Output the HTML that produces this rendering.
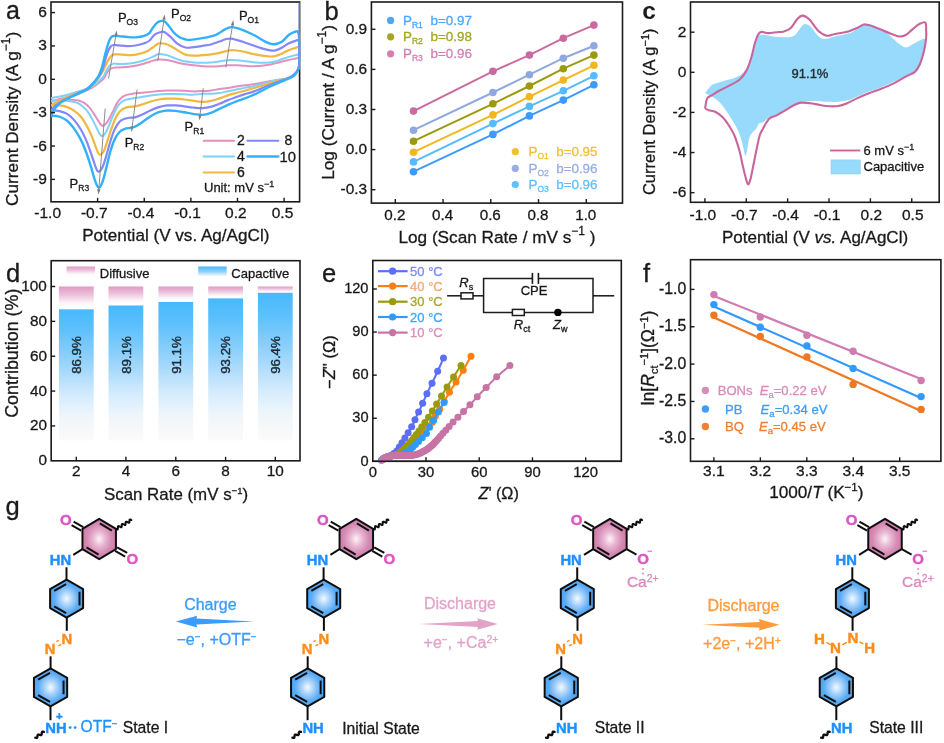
<!DOCTYPE html>
<html lang="en">
<head>
<meta charset="utf-8">
<title>Figure</title>
<style>
html,body{margin:0;padding:0;background:#fff;}
body{width:944px;height:743px;overflow:hidden;}
svg{display:block;font-family:"Liberation Sans",Arial,Helvetica,sans-serif;}
</style>
</head>
<body>
<svg width="944" height="743" viewBox="0 0 944 743">
<rect width="944" height="743" fill="#ffffff"/>
<filter id="softBlur" x="0" y="0" width="944" height="743" filterUnits="userSpaceOnUse"><feGaussianBlur stdDeviation="0.55"/></filter>
<g filter="url(#softBlur)">
<g id="panel-a">
<rect x="51" y="2" width="248.6" height="199.8" fill="none" stroke="#1a1a1a" stroke-width="1.6"/>
<clipPath id="clipA"><rect x="51" y="2" width="249.4" height="199.8"/></clipPath>
<g clip-path="url(#clipA)" fill="none" stroke-linejoin="round" stroke-linecap="round">
<path d="M51,101.5C52.5,101.08 56.83,99.92 60,99C63.17,98.08 66.67,97.08 70,96C73.33,94.92 76.67,93.7 80,92.5C83.33,91.3 87.21,90.13 90,88.8C92.79,87.47 94.46,86.15 96.71,84.5C98.96,82.85 101.8,80.82 103.5,78.9C105.2,76.97 105.76,74.66 106.89,72.96C108.02,71.26 108.87,69.62 110.29,68.72C111.7,67.81 113.4,67.76 115.38,67.53C117.36,67.3 119.34,67.59 122.16,67.36C124.99,67.13 129.23,66.65 132.34,66.17C135.45,65.69 138,65.18 140.83,64.48C143.66,63.77 146.77,62.72 149.31,61.93C151.86,61.14 154.32,60.15 156.1,59.72C157.88,59.3 157.94,59.3 160,59.38C162.06,59.47 165.66,59.72 168.48,60.23C171.31,60.74 174.14,61.79 176.97,62.44C179.79,63.09 182.62,63.66 185.45,64.14C188.28,64.62 191.11,64.98 193.93,65.32C196.76,65.66 199.59,65.97 202.42,66.17C205.25,66.37 208.07,66.51 210.9,66.51C213.73,66.51 216.56,66.37 219.38,66.17C222.21,65.97 225.04,65.46 227.87,65.32C230.7,65.18 233.52,65.24 236.35,65.32C239.18,65.41 242.01,65.69 244.84,65.83C247.66,65.97 250.49,66.17 253.32,66.17C256.15,66.17 258.97,66.12 261.8,65.83C264.63,65.55 267.46,65.04 270.29,64.48C273.11,63.91 275.94,63.15 278.77,62.44C281.6,61.73 284.43,60.88 287.25,60.23C290.08,59.58 293.9,58.9 295.74,58.54C297.58,58.17 297.69,57.78 298.28,58.03C298.88,58.27 299.13,58.67 299.3,60C299.47,61.33 299.72,63.98 299.3,66C298.88,68.02 298.76,70.05 296.76,72.11C294.75,74.17 290.25,77.12 287.25,78.39C284.26,79.66 281.6,79.29 278.77,79.75C275.94,80.2 273.11,80.59 270.29,81.1C267.46,81.61 264.63,82.26 261.8,82.8C258.97,83.34 256.15,83.9 253.32,84.33C250.49,84.75 247.66,84.98 244.84,85.34C242.01,85.71 239.18,86.11 236.35,86.53C233.52,86.96 230.7,87.47 227.87,87.89C225.04,88.31 222.21,88.65 219.38,89.08C216.56,89.5 213.73,90.1 210.9,90.43C208.07,90.77 205.45,90.96 202.42,91.11C199.38,91.27 195.74,91.41 192.7,91.37C189.67,91.33 187.05,91 184.22,90.86C181.39,90.72 178.56,90.58 175.74,90.52C172.91,90.46 170.08,90.43 167.25,90.52C164.43,90.6 161.6,90.8 158.77,91.03C155.94,91.25 153.11,91.59 150.29,91.88C147.46,92.16 144.63,92.44 141.8,92.73C138.97,93.01 135.86,93.21 133.32,93.57C130.77,93.94 128.51,94.22 126.53,94.93C124.55,95.64 123,96.49 121.44,97.82C119.89,99.14 118.47,100.93 117.2,102.91C115.93,104.89 114.94,107.43 113.81,109.69C112.68,111.95 111.54,114.36 110.41,116.48C109.28,118.6 108.01,121 107.02,122.42C106.03,123.83 105.24,124.4 104.48,124.96C103.71,125.53 103.15,126.01 102.44,125.81C101.73,125.61 101.03,124.76 100.23,123.78C99.44,122.79 98.82,121.65 97.69,119.87C96.56,118.09 94.86,115.21 93.45,113.09C92.03,110.97 90.76,108.84 89.2,107.15C87.65,105.45 85.81,103.98 84.11,102.91C82.42,101.83 81,101.21 79.02,100.7C77.04,100.19 74.22,99.99 72.24,99.85C70.26,99.71 68.84,99.82 67.15,99.85C65.45,99.88 64.04,99.96 62.06,100.02C60.08,100.08 57.11,99.94 55.27,100.19C53.43,100.44 51.71,101.28 51,101.5" stroke="#e58fc0" stroke-width="2"/>
<path d="M51,98C52.5,97.75 56.83,97.17 60,96.5C63.17,95.83 66.67,94.92 70,94C73.33,93.08 77,91.92 80,91C83,90.08 85.21,89.81 88,88.5C90.79,87.19 94.13,85.16 96.71,83.14C99.3,81.11 101.8,78.61 103.5,76.35C105.2,74.09 105.76,71.4 106.89,69.57C108.02,67.73 109.16,66.31 110.29,65.32C111.42,64.33 112.27,63.85 113.68,63.63C115.09,63.4 116.51,63.97 118.77,63.97C121.03,63.97 124.43,63.88 127.25,63.63C130.08,63.37 132.91,63 135.74,62.44C138.56,61.87 141.39,61.17 144.22,60.23C147.05,59.3 150.44,57.83 152.7,56.84C154.97,55.85 156.58,54.78 157.79,54.29C159.01,53.81 158.5,53.81 160,53.96C161.5,54.1 164.52,54.52 166.79,55.14C169.05,55.77 171.03,56.76 173.57,57.69C176.12,58.62 178.66,59.95 182.06,60.74C185.45,61.53 190.54,62.1 193.93,62.44C197.33,62.78 199.59,62.78 202.42,62.78C205.25,62.78 208.07,62.67 210.9,62.44C213.73,62.21 216.56,61.79 219.38,61.42C222.21,61.05 225.61,60.49 227.87,60.23C230.13,59.98 230.7,59.81 232.96,59.89C235.22,59.98 238.05,60.35 241.44,60.74C244.84,61.14 249.36,61.93 253.32,62.27C257.28,62.61 261.52,62.92 265.2,62.78C268.87,62.64 272.55,62.04 275.38,61.42C278.2,60.8 279.9,59.81 282.16,59.05C284.43,58.28 286.69,57.49 288.95,56.84C291.21,56.19 294.18,55.51 295.74,55.14C297.29,54.78 297.69,54.32 298.28,54.63C298.88,54.94 299.13,55.27 299.3,57C299.47,58.73 299.67,62.62 299.3,65C298.93,67.38 298.25,69.37 297.09,71.26C295.93,73.15 294.27,75.08 292.34,76.35C290.42,77.62 287.82,78.33 285.56,78.9C283.29,79.46 281.31,79.26 278.77,79.75C276.22,80.23 273.11,81.07 270.29,81.78C267.46,82.49 264.63,83.25 261.8,83.99C258.97,84.72 256.15,85.54 253.32,86.19C250.49,86.84 247.66,87.32 244.84,87.89C242.01,88.46 239.18,89.02 236.35,89.59C233.52,90.15 230.7,90.72 227.87,91.28C225.04,91.85 222.21,92.56 219.38,92.98C216.56,93.4 213.73,93.69 210.9,93.83C208.07,93.97 205.45,93.67 202.42,93.83C199.38,93.98 195.74,94.69 192.7,94.76C189.67,94.83 187.05,94.39 184.22,94.25C181.39,94.11 178.56,93.94 175.74,93.91C172.91,93.88 170.08,93.97 167.25,94.08C164.43,94.2 161.6,94.34 158.77,94.59C155.94,94.85 153.11,95.21 150.29,95.61C147.46,96.01 144.63,96.51 141.8,96.97C138.97,97.42 135.86,97.9 133.32,98.32C130.77,98.75 128.51,98.89 126.53,99.51C124.55,100.13 123,100.78 121.44,102.06C119.89,103.33 118.61,104.89 117.2,107.15C115.79,109.41 114.23,112.8 112.96,115.63C111.69,118.46 110.7,121.43 109.57,124.11C108.43,126.8 107.16,129.91 106.17,131.75C105.18,133.59 104.42,134.44 103.63,135.14C102.83,135.85 102.13,136.27 101.42,135.99C100.71,135.71 100.15,134.72 99.38,133.45C98.62,132.17 97.97,130.62 96.84,128.36C95.71,126.09 94.15,122.7 92.6,119.87C91.04,117.04 89.2,113.65 87.51,111.39C85.81,109.13 84.11,107.71 82.42,106.3C80.72,104.89 79.31,103.75 77.33,102.91C75.35,102.06 72.8,101.58 70.54,101.21C68.28,100.84 66.02,100.84 63.75,100.7C61.49,100.56 59.09,100.41 56.97,100.36C54.84,100.31 51.99,100.39 51,100.4" stroke="#7ed2fa" stroke-width="2"/>
<path d="M51,105.4C52.17,104.72 55.5,102.57 58,101.3C60.5,100.03 63,99.05 66,97.8C69,96.55 72.67,95.18 76,93.8C79.33,92.42 82.83,91.42 86,89.5C89.17,87.58 92.38,85.05 95.02,82.29C97.65,79.53 100.11,75.65 101.8,72.96C103.5,70.27 104.07,68.43 105.2,66.17C106.33,63.91 107.46,61.22 108.59,59.38C109.72,57.55 110.85,55.99 111.98,55.14C113.11,54.29 113.68,54.38 115.38,54.29C117.07,54.21 119.34,54.49 122.16,54.63C124.99,54.78 129.23,55.34 132.34,55.14C135.45,54.95 138.28,54.15 140.83,53.45C143.37,52.74 145.63,51.89 147.61,50.9C149.59,49.91 151.01,48.7 152.7,47.51C154.4,46.32 156.58,44.48 157.79,43.78C159.01,43.07 158.78,43.27 160,43.27C161.22,43.27 163.11,43.21 165.09,43.78C167.07,44.34 169.61,45.47 171.88,46.66C174.14,47.85 176.4,49.57 178.66,50.9C180.93,52.23 182.91,53.84 185.45,54.63C188,55.43 191.11,55.57 193.93,55.65C196.76,55.74 199.59,55.37 202.42,55.14C205.25,54.92 208.07,54.66 210.9,54.29C213.73,53.93 216.56,53.56 219.38,52.94C222.21,52.32 225.61,51.04 227.87,50.56C230.13,50.08 230.7,49.94 232.96,50.05C235.22,50.17 238.05,50.59 241.44,51.24C244.84,51.89 249.93,53.22 253.32,53.96C256.71,54.69 258.97,55.23 261.8,55.65C264.63,56.08 268.02,56.44 270.29,56.5C272.55,56.56 273.4,56.5 275.38,55.99C277.36,55.48 279.9,54.44 282.16,53.45C284.43,52.46 286.69,50.99 288.95,50.05C291.21,49.12 294.18,48.33 295.74,47.85C297.29,47.37 297.69,46.81 298.28,47.17C298.88,47.53 299.13,47.19 299.3,50C299.47,52.81 299.67,60.46 299.3,64C298.93,67.54 298.54,69.06 297.09,71.26C295.65,73.46 292.57,75.93 290.65,77.2C288.72,78.47 287.54,78.33 285.56,78.9C283.58,79.46 281.31,79.89 278.77,80.59C276.22,81.3 273.11,82.29 270.29,83.14C267.46,83.99 264.63,84.84 261.8,85.68C258.97,86.53 256.15,87.38 253.32,88.23C250.49,89.08 247.66,89.98 244.84,90.77C242.01,91.57 239.18,92.22 236.35,92.98C233.52,93.74 230.7,94.45 227.87,95.36C225.04,96.26 222.21,97.48 219.38,98.41C216.56,99.34 213.73,100.39 210.9,100.95C208.07,101.52 205.45,101.85 202.42,101.8C199.38,101.76 195.74,101.08 192.7,100.7C189.67,100.32 187.05,99.85 184.22,99.51C181.39,99.17 178.56,98.81 175.74,98.66C172.91,98.52 170.08,98.52 167.25,98.66C164.43,98.81 161.6,99 158.77,99.51C155.94,100.02 153.11,100.87 150.29,101.72C147.46,102.57 144.35,103.84 141.8,104.6C139.26,105.37 137,105.93 135.02,106.3C133.04,106.67 131.62,106.53 129.93,106.81C128.23,107.09 126.53,107.23 124.84,108C123.14,108.76 121.3,109.69 119.75,111.39C118.19,113.09 116.92,115.21 115.5,118.18C114.09,121.15 112.53,125.67 111.26,129.2C109.99,132.74 109,135.99 107.87,139.38C106.74,142.78 105.46,147.16 104.48,149.57C103.49,151.97 102.72,152.96 101.93,153.81C101.14,154.66 100.43,154.94 99.72,154.66C99.02,154.37 98.45,153.67 97.69,152.11C96.92,150.55 96.27,148.29 95.14,145.32C94.01,142.35 92.46,137.83 90.9,134.29C89.35,130.76 87.51,127.08 85.81,124.11C84.11,121.15 82.7,118.74 80.72,116.48C78.74,114.22 76.2,112.1 73.93,110.54C71.67,108.99 69.41,108 67.15,107.15C64.89,106.3 62.34,105.79 60.36,105.45C58.38,105.11 56.83,105.12 55.27,105.11C53.71,105.1 51.71,105.35 51,105.4" stroke="#f0b840" stroke-width="2.2"/>
<path d="M51,110.5C51.83,109.58 54.17,106.53 56,105C57.83,103.47 59.67,102.58 62,101.3C64.33,100.02 67,98.8 70,97.3C73,95.8 77,93.82 80,92.3C83,90.78 85.78,89.73 88,88.2C90.22,86.67 91.3,85.4 93.32,83.14C95.34,80.88 98.41,77.48 100.11,74.66C101.8,71.83 102.37,69.57 103.5,66.17C104.63,62.78 105.76,57.49 106.89,54.29C108.02,51.1 109.16,48.55 110.29,47C111.42,45.44 112.27,45.22 113.68,44.96C115.09,44.71 116.51,45.27 118.77,45.47C121.03,45.67 124.43,46.15 127.25,46.15C130.08,46.15 132.91,45.95 135.74,45.47C138.56,44.99 141.96,44.06 144.22,43.27C146.48,42.47 147.61,42.14 149.31,40.72C151.01,39.31 152.62,36.2 154.4,34.78C156.18,33.37 158.36,32.72 160,32.24C161.64,31.76 162.55,31.19 164.24,31.9C165.94,32.61 168.06,34.58 170.18,36.48C172.3,38.37 174.42,41.43 176.97,43.27C179.51,45.1 182.62,46.86 185.45,47.51C188.28,48.16 191.11,47.45 193.93,47.17C196.76,46.89 199.59,46.26 202.42,45.81C205.25,45.36 208.07,45.16 210.9,44.45C213.73,43.75 216.84,42.47 219.38,41.57C221.93,40.66 224.19,39.51 226.17,39.02C228.15,38.54 229.57,38.54 231.26,38.69C232.96,38.83 234.09,39.25 236.35,39.87C238.61,40.49 242.01,41.48 244.84,42.42C247.66,43.35 250.49,44.48 253.32,45.47C256.15,46.46 258.97,47.54 261.8,48.36C264.63,49.18 268.02,50.05 270.29,50.39C272.55,50.73 273.4,50.87 275.38,50.39C277.36,49.91 279.9,48.7 282.16,47.51C284.43,46.32 286.69,44.4 288.95,43.27C291.21,42.14 294.21,41.26 295.74,40.72C297.26,40.18 297.52,39.33 298.11,40.04C298.71,40.76 299.1,41.01 299.3,45C299.5,48.99 299.61,59.76 299.3,64C298.99,68.24 298.31,68.64 297.43,70.41C296.56,72.19 295.45,73.44 294.04,74.66C292.63,75.87 291.5,76.58 288.95,77.71C286.41,78.84 281.88,80.25 278.77,81.44C275.66,82.63 273.11,83.7 270.29,84.84C267.46,85.97 264.63,87.1 261.8,88.23C258.97,89.36 256.15,90.63 253.32,91.62C250.49,92.61 247.66,93.26 244.84,94.17C242.01,95.07 239.18,96.06 236.35,97.05C233.52,98.04 230.7,98.97 227.87,100.11C225.04,101.24 222.21,102.71 219.38,103.84C216.56,104.97 213.73,106.19 210.9,106.89C208.07,107.6 205.45,107.98 202.42,108.08C199.38,108.18 195.74,107.78 192.7,107.49C189.67,107.19 187.05,106.64 184.22,106.3C181.39,105.96 178.56,105.59 175.74,105.45C172.91,105.31 170.08,105.17 167.25,105.45C164.43,105.73 161.6,106.3 158.77,107.15C155.94,108 153.11,109.27 150.29,110.54C147.46,111.81 144.35,113.65 141.8,114.78C139.26,115.91 137,116.85 135.02,117.33C133.04,117.81 131.62,117.44 129.93,117.67C128.23,117.89 126.53,118.03 124.84,118.69C123.14,119.34 121.44,119.82 119.75,121.57C118.05,123.32 116.21,125.95 114.66,129.2C113.1,132.46 111.83,136.56 110.41,141.08C109,145.61 107.44,152.11 106.17,156.35C104.9,160.59 103.77,164.13 102.78,166.53C101.79,168.94 100.94,169.93 100.23,170.77C99.53,171.62 99.1,171.76 98.54,171.62C97.97,171.48 97.55,171.34 96.84,169.93C96.13,168.51 95.28,165.97 94.29,163.14C93.31,160.31 92.32,156.92 90.9,152.96C89.49,149 87.51,143.34 85.81,139.38C84.11,135.43 82.7,132.46 80.72,129.2C78.74,125.95 76.2,122.42 73.93,119.87C71.67,117.33 69.41,115.35 67.15,113.93C64.89,112.52 62.34,111.95 60.36,111.39C58.38,110.82 56.83,110.69 55.27,110.54C53.71,110.39 51.71,110.51 51,110.5" stroke="#8587f8" stroke-width="2.2"/>
<path d="M51,116C51.72,114.67 53.73,110.18 55.3,108C56.87,105.82 58.43,104.45 60.4,102.9C62.37,101.35 64.85,99.92 67.1,98.7C69.35,97.48 71.35,96.73 73.9,95.6C76.45,94.47 80.05,93.08 82.4,91.9C84.75,90.72 86.18,89.96 88,88.5C89.82,87.04 91.58,85.16 93.32,83.14C95.05,81.11 97,78.9 98.41,76.35C99.82,73.81 100.67,71.54 101.8,67.87C102.93,64.19 104.07,58.54 105.2,54.29C106.33,50.05 107.6,45.25 108.59,42.42C109.58,39.59 110.29,38.4 111.13,37.33C111.98,36.25 112.41,36.17 113.68,35.97C114.95,35.77 116.51,35.97 118.77,36.14C121.03,36.31 124.43,36.79 127.25,36.99C130.08,37.19 132.91,37.5 135.74,37.33C138.56,37.16 141.96,36.68 144.22,35.97C146.48,35.26 147.9,34.41 149.31,33.09C150.72,31.76 151.43,29.69 152.7,28C153.98,26.3 155.73,24.04 156.95,22.91C158.16,21.77 158.78,21.49 160,21.21C161.22,20.93 162.83,20.5 164.24,21.21C165.66,21.92 166.93,23.61 168.48,25.45C170.04,27.29 171.74,30.26 173.57,32.24C175.41,34.22 177.53,36.14 179.51,37.33C181.49,38.52 183.61,38.94 185.45,39.36C187.29,39.79 187.71,40.07 190.54,39.87C193.37,39.67 198.18,39.02 202.42,38.18C206.66,37.33 212.32,36.2 215.99,34.78C219.67,33.37 221.93,30.97 224.48,29.69C227.02,28.42 228.72,27.29 231.26,27.15C233.81,27.01 236.07,27.57 239.75,28.84C243.42,30.12 249.08,32.66 253.32,34.78C257.56,36.9 262.09,40.01 265.2,41.57C268.31,43.12 270,43.75 271.98,44.11C273.96,44.48 275.38,44.2 277.07,43.78C278.77,43.35 280.18,43.07 282.16,41.57C284.14,40.07 286.97,36.34 288.95,34.78C290.93,33.23 292.57,32.77 294.04,32.24C295.51,31.7 296.9,30.27 297.77,31.56C298.65,32.85 299.05,34.59 299.3,40C299.55,45.41 299.55,58.93 299.3,64C299.05,69.07 298.65,68.5 297.77,70.41C296.9,72.33 295.51,74.17 294.04,75.5C292.57,76.83 290.65,77.54 288.95,78.39C287.25,79.24 285.56,79.89 283.86,80.59C282.16,81.3 281.03,81.64 278.77,82.63C276.51,83.62 273.11,85.17 270.29,86.53C267.46,87.89 264.63,89.36 261.8,90.77C258.97,92.19 256.15,93.74 253.32,95.02C250.49,96.29 247.66,97.36 244.84,98.41C242.01,99.46 239.18,100.22 236.35,101.29C233.52,102.37 230.7,103.58 227.87,104.86C225.04,106.13 222.21,107.6 219.38,108.93C216.56,110.26 213.73,111.84 210.9,112.83C208.07,113.82 205.45,114.68 202.42,114.87C199.38,115.05 195.74,114.37 192.7,113.93C189.67,113.5 187.05,112.75 184.22,112.24C181.39,111.73 178.56,111.16 175.74,110.88C172.91,110.6 170.08,110.31 167.25,110.54C164.43,110.77 161.6,111.25 158.77,112.24C155.94,113.23 153.11,114.78 150.29,116.48C147.46,118.18 144.35,120.72 141.8,122.42C139.26,124.11 137,125.75 135.02,126.66C133.04,127.56 131.62,127.48 129.93,127.85C128.23,128.21 126.53,128.21 124.84,128.87C123.14,129.52 121.44,130 119.75,131.75C118.05,133.5 116.21,136.13 114.66,139.38C113.1,142.64 111.69,147.02 110.41,151.26C109.14,155.5 108.15,160.31 107.02,164.84C105.89,169.36 104.62,175.02 103.63,178.41C102.64,181.8 101.85,183.64 101.08,185.2C100.32,186.75 99.75,187.74 99.05,187.74C98.34,187.74 97.63,186.75 96.84,185.2C96.05,183.64 95.28,181.52 94.29,178.41C93.31,175.3 92.32,171.06 90.9,166.53C89.49,162.01 87.51,155.79 85.81,151.26C84.11,146.74 82.7,143.2 80.72,139.38C78.74,135.57 76.2,131.47 73.93,128.36C71.67,125.25 69.41,122.62 67.15,120.72C64.89,118.83 62.34,117.78 60.36,116.99C58.38,116.2 56.83,116.14 55.27,115.97C53.71,115.81 51.71,116 51,116" stroke="#33b1fb" stroke-width="2.4"/>
</g>
<line x1="299.2" y1="2.4" x2="299.2" y2="68" stroke="#8587f8" stroke-width="1.5" opacity="0.8"/>
<line x1="108.59" y1="78.39" x2="115.81" y2="35.96" stroke="#808080" stroke-width="0.9"/><path d="M116.73,30.54 L117.49,36.25 L114.14,35.68 Z" fill="#808080"/>
<line x1="157.79" y1="61.08" x2="163.94" y2="19.86" stroke="#808080" stroke-width="0.9"/><path d="M164.75,14.42 L165.62,20.11 L162.26,19.61 Z" fill="#808080"/>
<line x1="225.83" y1="67.53" x2="232.44" y2="25.45" stroke="#808080" stroke-width="0.9"/><path d="M233.3,20.02 L234.12,25.72 L230.76,25.19 Z" fill="#808080"/>
<line x1="137.09" y1="89.59" x2="132.22" y2="126.42" stroke="#808080" stroke-width="0.9"/><path d="M131.5,131.88 L130.53,126.2 L133.9,126.65 Z" fill="#808080"/>
<line x1="203.27" y1="88.23" x2="200.02" y2="115.01" stroke="#808080" stroke-width="0.9"/><path d="M199.36,120.47 L198.34,114.8 L201.71,115.21 Z" fill="#808080"/>
<line x1="105.2" y1="108.59" x2="98.84" y2="189.17" stroke="#808080" stroke-width="0.9"/><path d="M98.41,194.66 L97.15,189.04 L100.54,189.31 Z" fill="#808080"/>
<line x1="97.62" y1="201.8" x2="97.62" y2="197.8" stroke="#1a1a1a" stroke-width="1.4"/><line x1="144.24" y1="201.8" x2="144.24" y2="197.8" stroke="#1a1a1a" stroke-width="1.4"/><line x1="190.86" y1="201.8" x2="190.86" y2="197.8" stroke="#1a1a1a" stroke-width="1.4"/><line x1="237.48" y1="201.8" x2="237.48" y2="197.8" stroke="#1a1a1a" stroke-width="1.4"/><line x1="284.1" y1="201.8" x2="284.1" y2="197.8" stroke="#1a1a1a" stroke-width="1.4"/>
<line x1="51" y1="12.58" x2="55" y2="12.58" stroke="#1a1a1a" stroke-width="1.4"/><line x1="51" y1="45.94" x2="55" y2="45.94" stroke="#1a1a1a" stroke-width="1.4"/><line x1="51" y1="79.3" x2="55" y2="79.3" stroke="#1a1a1a" stroke-width="1.4"/><line x1="51" y1="112.66" x2="55" y2="112.66" stroke="#1a1a1a" stroke-width="1.4"/><line x1="51" y1="146.02" x2="55" y2="146.02" stroke="#1a1a1a" stroke-width="1.4"/><line x1="51" y1="179.38" x2="55" y2="179.38" stroke="#1a1a1a" stroke-width="1.4"/>
<text x="46.8" y="17.13" font-size="15.5" fill="#1a1a1a" text-anchor="end" stroke="#1a1a1a" stroke-width="0.3">6</text><text x="46.8" y="50.49" font-size="15.5" fill="#1a1a1a" text-anchor="end" stroke="#1a1a1a" stroke-width="0.3">3</text><text x="46.8" y="83.85" font-size="15.5" fill="#1a1a1a" text-anchor="end" stroke="#1a1a1a" stroke-width="0.3">0</text><text x="46.8" y="117.21" font-size="15.5" fill="#1a1a1a" text-anchor="end" stroke="#1a1a1a" stroke-width="0.3">-3</text><text x="46.8" y="150.57" font-size="15.5" fill="#1a1a1a" text-anchor="end" stroke="#1a1a1a" stroke-width="0.3">-6</text><text x="46.8" y="183.93" font-size="15.5" fill="#1a1a1a" text-anchor="end" stroke="#1a1a1a" stroke-width="0.3">-9</text>
<text x="47.7" y="218" font-size="15.5" fill="#1a1a1a" text-anchor="middle" stroke="#1a1a1a" stroke-width="0.3">-1.0</text><text x="94.32" y="218" font-size="15.5" fill="#1a1a1a" text-anchor="middle" stroke="#1a1a1a" stroke-width="0.3">-0.7</text><text x="140.94" y="218" font-size="15.5" fill="#1a1a1a" text-anchor="middle" stroke="#1a1a1a" stroke-width="0.3">-0.4</text><text x="187.56" y="218" font-size="15.5" fill="#1a1a1a" text-anchor="middle" stroke="#1a1a1a" stroke-width="0.3">-0.1</text><text x="235.88" y="218" font-size="15.5" fill="#1a1a1a" text-anchor="middle" stroke="#1a1a1a" stroke-width="0.3">0.2</text><text x="282.5" y="218" font-size="15.5" fill="#1a1a1a" text-anchor="middle" stroke="#1a1a1a" stroke-width="0.3">0.5</text>
<text x="175.8" y="241.4" font-size="17.1" fill="#1a1a1a" text-anchor="middle" stroke="#1a1a1a" stroke-width="0.3">Potential (V vs. Ag/AgCl)</text>
<text x="17.6" y="118.8" font-size="17.2" fill="#1a1a1a" text-anchor="middle" stroke="#1a1a1a" stroke-width="0.3" transform="rotate(-90 17.6 118.8)">Current Density (A g<tspan font-size="12" baseline-shift="8">−1</tspan>)</text>
<text x="6" y="18.8" font-size="25" fill="#1a1a1a" stroke="#1a1a1a" stroke-width="0.3">a</text>
<text x="117.9" y="22" font-size="13" fill="#1a1a1a" stroke="#1a1a1a" stroke-width="0.3">P<tspan font-size="8.5" baseline-shift="-3.2">O3</tspan></text>
<text x="171" y="17.8" font-size="13" fill="#1a1a1a" stroke="#1a1a1a" stroke-width="0.3">P<tspan font-size="8.5" baseline-shift="-3.2">O2</tspan></text>
<text x="238.9" y="19.5" font-size="13" fill="#1a1a1a" stroke="#1a1a1a" stroke-width="0.3">P<tspan font-size="8.5" baseline-shift="-3.2">O1</tspan></text>
<text x="124.7" y="147.1" font-size="13" fill="#1a1a1a" stroke="#1a1a1a" stroke-width="0.3">P<tspan font-size="8.5" baseline-shift="-3.2">R2</tspan></text>
<text x="184.6" y="130.5" font-size="13" fill="#1a1a1a" stroke="#1a1a1a" stroke-width="0.3">P<tspan font-size="8.5" baseline-shift="-3.2">R1</tspan></text>
<text x="69.6" y="187.9" font-size="13" fill="#1a1a1a" stroke="#1a1a1a" stroke-width="0.3">P<tspan font-size="8.5" baseline-shift="-3.2">R3</tspan></text>
<line x1="203.6" y1="140.7" x2="234.1" y2="140.7" stroke="#e58fc0" stroke-width="2" stroke-linecap="round"/>
<text x="237" y="145" font-size="14" fill="#1a1a1a" stroke="#1a1a1a" stroke-width="0.3">2</text>
<line x1="247.4" y1="140.7" x2="278.4" y2="140.7" stroke="#8587f8" stroke-width="2" stroke-linecap="round"/>
<text x="295.7" y="145" font-size="14" fill="#1a1a1a" text-anchor="end" stroke="#1a1a1a" stroke-width="0.3" dx="-3.3">8</text>
<line x1="203.6" y1="156.5" x2="234.1" y2="156.5" stroke="#7ed2fa" stroke-width="2" stroke-linecap="round"/>
<text x="237" y="160.9" font-size="14" fill="#1a1a1a" stroke="#1a1a1a" stroke-width="0.3">4</text>
<line x1="247.4" y1="156.5" x2="278.4" y2="156.5" stroke="#33b1fb" stroke-width="2.3" stroke-linecap="round"/>
<text x="295.9" y="161.5" font-size="14.8" fill="#1a1a1a" text-anchor="end" stroke="#1a1a1a" stroke-width="0.3">10</text>
<line x1="203.6" y1="172.6" x2="234.1" y2="172.6" stroke="#f0b840" stroke-width="2" stroke-linecap="round"/>
<text x="237" y="177" font-size="14" fill="#1a1a1a" stroke="#1a1a1a" stroke-width="0.3">6</text>
<text x="204" y="192.1" font-size="13" fill="#1a1a1a" stroke="#1a1a1a" stroke-width="0.3">Unit: mV s<tspan font-size="9" baseline-shift="5">−1</tspan></text>
</g>
<g id="panel-b">
<rect x="371.4" y="2" width="251.1" height="201.1" fill="none" stroke="#1a1a1a" stroke-width="1.6"/>
<line x1="395.3" y1="203.1" x2="395.3" y2="199.1" stroke="#1a1a1a" stroke-width="1.4"/><line x1="443.04" y1="203.1" x2="443.04" y2="199.1" stroke="#1a1a1a" stroke-width="1.4"/><line x1="490.78" y1="203.1" x2="490.78" y2="199.1" stroke="#1a1a1a" stroke-width="1.4"/><line x1="538.52" y1="203.1" x2="538.52" y2="199.1" stroke="#1a1a1a" stroke-width="1.4"/><line x1="586.26" y1="203.1" x2="586.26" y2="199.1" stroke="#1a1a1a" stroke-width="1.4"/>
<line x1="371.4" y1="29.27" x2="375.4" y2="29.27" stroke="#1a1a1a" stroke-width="1.4"/><line x1="371.4" y1="69.38" x2="375.4" y2="69.38" stroke="#1a1a1a" stroke-width="1.4"/><line x1="371.4" y1="109.49" x2="375.4" y2="109.49" stroke="#1a1a1a" stroke-width="1.4"/><line x1="371.4" y1="149.6" x2="375.4" y2="149.6" stroke="#1a1a1a" stroke-width="1.4"/><line x1="371.4" y1="189.71" x2="375.4" y2="189.71" stroke="#1a1a1a" stroke-width="1.4"/>
<path d="M413.5,171.7L492.9,134.4L529.4,115.9L563.3,100.1L593.9,84.8" fill="none" stroke="#3b9bff" stroke-width="2"/>
<circle cx="413.5" cy="171.7" r="3.8" fill="#3b9bff"/>
<circle cx="492.9" cy="134.4" r="3.8" fill="#3b9bff"/>
<circle cx="529.4" cy="115.9" r="3.8" fill="#3b9bff"/>
<circle cx="563.3" cy="100.1" r="3.8" fill="#3b9bff"/>
<circle cx="593.9" cy="84.8" r="3.8" fill="#3b9bff"/>
<path d="M413.5,161.9L492.9,123.6L529.4,106.4L563.3,90.8L593.9,75.8" fill="none" stroke="#55bbff" stroke-width="2"/>
<circle cx="413.5" cy="161.9" r="3.8" fill="#55bbff"/>
<circle cx="492.9" cy="123.6" r="3.8" fill="#55bbff"/>
<circle cx="529.4" cy="106.4" r="3.8" fill="#55bbff"/>
<circle cx="563.3" cy="90.8" r="3.8" fill="#55bbff"/>
<circle cx="593.9" cy="75.8" r="3.8" fill="#55bbff"/>
<path d="M413.5,152.2L492.9,114.9L529.4,96.7L563.3,80.1L593.9,65.3" fill="none" stroke="#f0b81e" stroke-width="2"/>
<circle cx="413.5" cy="152.2" r="3.8" fill="#f0b81e"/>
<circle cx="492.9" cy="114.9" r="3.8" fill="#f0b81e"/>
<circle cx="529.4" cy="96.7" r="3.8" fill="#f0b81e"/>
<circle cx="563.3" cy="80.1" r="3.8" fill="#f0b81e"/>
<circle cx="593.9" cy="65.3" r="3.8" fill="#f0b81e"/>
<path d="M413.5,141.2L492.9,103.8L529.4,86L563.3,68.7L593.9,55.1" fill="none" stroke="#9a9a10" stroke-width="2"/>
<circle cx="413.5" cy="141.2" r="3.8" fill="#9a9a10"/>
<circle cx="492.9" cy="103.8" r="3.8" fill="#9a9a10"/>
<circle cx="529.4" cy="86" r="3.8" fill="#9a9a10"/>
<circle cx="563.3" cy="68.7" r="3.8" fill="#9a9a10"/>
<circle cx="593.9" cy="55.1" r="3.8" fill="#9a9a10"/>
<path d="M413.5,130.2L492.9,92.5L529.4,74.7L563.3,58.2L593.9,45.8" fill="none" stroke="#8fa8e0" stroke-width="2"/>
<circle cx="413.5" cy="130.2" r="3.8" fill="#8fa8e0"/>
<circle cx="492.9" cy="92.5" r="3.8" fill="#8fa8e0"/>
<circle cx="529.4" cy="74.7" r="3.8" fill="#8fa8e0"/>
<circle cx="563.3" cy="58.2" r="3.8" fill="#8fa8e0"/>
<circle cx="593.9" cy="45.8" r="3.8" fill="#8fa8e0"/>
<path d="M413.5,111.1L492.9,71.3L529.4,55.1L563.3,38.2L593.9,25.1" fill="none" stroke="#c96ba0" stroke-width="2"/>
<circle cx="413.5" cy="111.1" r="3.8" fill="#c96ba0"/>
<circle cx="492.9" cy="71.3" r="3.8" fill="#c96ba0"/>
<circle cx="529.4" cy="55.1" r="3.8" fill="#c96ba0"/>
<circle cx="563.3" cy="38.2" r="3.8" fill="#c96ba0"/>
<circle cx="593.9" cy="25.1" r="3.8" fill="#c96ba0"/>
<text x="367.1" y="33.78" font-size="15.4" fill="#1a1a1a" text-anchor="end" stroke="#1a1a1a" stroke-width="0.3">0.9</text><text x="367.1" y="73.89" font-size="15.4" fill="#1a1a1a" text-anchor="end" stroke="#1a1a1a" stroke-width="0.3">0.6</text><text x="367.1" y="114" font-size="15.4" fill="#1a1a1a" text-anchor="end" stroke="#1a1a1a" stroke-width="0.3">0.3</text><text x="367.1" y="154.11" font-size="15.4" fill="#1a1a1a" text-anchor="end" stroke="#1a1a1a" stroke-width="0.3">0.0</text><text x="367.1" y="194.22" font-size="15.4" fill="#1a1a1a" text-anchor="end" stroke="#1a1a1a" stroke-width="0.3">-0.3</text>
<text x="394.8" y="219.6" font-size="15.2" fill="#1a1a1a" text-anchor="middle" stroke="#1a1a1a" stroke-width="0.3">0.2</text><text x="442.54" y="219.6" font-size="15.2" fill="#1a1a1a" text-anchor="middle" stroke="#1a1a1a" stroke-width="0.3">0.4</text><text x="490.28" y="219.6" font-size="15.2" fill="#1a1a1a" text-anchor="middle" stroke="#1a1a1a" stroke-width="0.3">0.6</text><text x="538.02" y="219.6" font-size="15.2" fill="#1a1a1a" text-anchor="middle" stroke="#1a1a1a" stroke-width="0.3">0.8</text><text x="585.76" y="219.6" font-size="15.2" fill="#1a1a1a" text-anchor="middle" stroke="#1a1a1a" stroke-width="0.3">1.0</text>
<text x="497" y="242.7" font-size="17.2" fill="#1a1a1a" text-anchor="middle" stroke="#1a1a1a" stroke-width="0.3">Log (Scan Rate / mV s<tspan font-size="12" baseline-shift="8">−1</tspan> )</text>
<text x="333.9" y="102.4" font-size="17.3" fill="#1a1a1a" text-anchor="middle" stroke="#1a1a1a" stroke-width="0.3" transform="rotate(-90 333.9 102.4)">Log (Current / A g<tspan font-size="12" baseline-shift="8">−1</tspan>)</text>
<text x="324.4" y="20" font-size="25.6" fill="#1a1a1a" stroke="#1a1a1a" stroke-width="0.3">b</text>
<circle cx="390.6" cy="20.4" r="3.6" fill="#4da6ff"/><text x="403" y="24.7" font-size="13.4" fill="#4da6ff" stroke="#4da6ff" stroke-width="0.3">P<tspan font-size="8.5" baseline-shift="-3.2">R1</tspan></text><text x="430.5" y="24.7" font-size="13.4" fill="#4da6ff" stroke="#4da6ff" stroke-width="0.3">b=0.97</text>
<circle cx="390.6" cy="36.8" r="3.6" fill="#a5a520"/><text x="403" y="41.1" font-size="13.4" fill="#a5a520" stroke="#a5a520" stroke-width="0.3">P<tspan font-size="8.5" baseline-shift="-3.2">R2</tspan></text><text x="430.5" y="41.1" font-size="13.4" fill="#a5a520" stroke="#a5a520" stroke-width="0.3">b=0.98</text>
<circle cx="390.6" cy="53.8" r="3.6" fill="#d47fb0"/><text x="403" y="58.1" font-size="13.4" fill="#d47fb0" stroke="#d47fb0" stroke-width="0.3">P<tspan font-size="8.5" baseline-shift="-3.2">R3</tspan></text><text x="430.5" y="58.1" font-size="13.4" fill="#d47fb0" stroke="#d47fb0" stroke-width="0.3">b=0.96</text>
<circle cx="515.3" cy="151.7" r="3.6" fill="#f2bf30"/><text x="528.5" y="156" font-size="13.4" fill="#f2bf30" stroke="#f2bf30" stroke-width="0.3">P<tspan font-size="8.5" baseline-shift="-3.2">O1</tspan></text><text x="556.2" y="156" font-size="13.4" fill="#f2bf30" stroke="#f2bf30" stroke-width="0.3">b=0.95</text>
<circle cx="515.3" cy="168.4" r="3.6" fill="#98ade2"/><text x="528.5" y="172.7" font-size="13.4" fill="#98ade2" stroke="#98ade2" stroke-width="0.3">P<tspan font-size="8.5" baseline-shift="-3.2">O2</tspan></text><text x="556.2" y="172.7" font-size="13.4" fill="#98ade2" stroke="#98ade2" stroke-width="0.3">b=0.96</text>
<circle cx="515.3" cy="184.5" r="3.6" fill="#5cc0ff"/><text x="528.5" y="188.8" font-size="13.4" fill="#5cc0ff" stroke="#5cc0ff" stroke-width="0.3">P<tspan font-size="8.5" baseline-shift="-3.2">O3</tspan></text><text x="556.2" y="188.8" font-size="13.4" fill="#5cc0ff" stroke="#5cc0ff" stroke-width="0.3">b=0.96</text>
</g>
<g id="panel-c">
<path d="M705.1,93.32C706.29,91.91 709.34,86.82 712.23,84.84C715.11,82.86 718.73,82.57 722.41,81.44C726.09,80.31 730.89,79.46 734.29,78.05C737.68,76.63 740.22,75.5 742.77,72.96C745.31,70.41 747.58,67.02 749.56,62.78C751.54,58.54 753.23,51.89 754.65,47.51C756.06,43.12 756.63,38.6 758.04,36.48C759.45,34.36 760.59,34.78 763.13,34.78C765.68,34.78 769.83,36.06 773.31,36.48C776.79,36.9 780.52,37.47 784,37.33C787.48,37.19 791.35,37.33 794.18,35.63C797.01,33.93 799.13,29.07 800.97,27.15C802.81,25.22 803.51,24.09 805.21,24.09C806.91,24.09 809.03,25.22 811.15,27.15C813.27,29.07 815.67,33.65 817.93,35.63C820.2,37.61 821.89,38.88 824.72,39.02C827.55,39.17 830.38,37.61 834.9,36.48C839.43,35.35 847.63,34.08 851.87,32.24C856.11,30.4 858.09,26.92 860.35,25.45C862.61,23.98 863.46,23.41 865.44,23.41C867.42,23.41 868.84,23.98 872.23,25.45C875.62,26.92 881.28,29.13 885.8,32.24C890.33,35.35 895.98,41.57 899.38,44.11C902.77,46.66 903.9,47.51 906.16,47.51C908.43,47.51 910.69,45.3 912.95,44.11C915.21,42.93 917.76,41.17 919.74,40.38C921.72,39.59 924.12,37.61 924.83,39.36C925.53,41.12 924.83,46.72 923.98,50.9C923.13,55.09 921.29,60.94 919.74,64.48C918.18,68.01 916.34,70.41 914.65,72.11C912.95,73.81 912.95,73.1 909.56,74.66C906.16,76.21 899.09,79.32 894.29,81.44C889.48,83.56 884.95,85.68 880.71,87.38C876.47,89.08 872.79,90.07 868.84,91.62C864.88,93.18 860.35,95.3 856.96,96.71C853.57,98.13 851.59,99.26 848.48,100.11C845.36,100.95 841.97,101.52 838.29,101.8C834.62,102.09 830.38,101.94 826.42,101.8C822.46,101.66 818.78,100.95 814.54,100.95C810.3,100.95 804.64,101.1 800.97,101.8C797.29,102.51 795.31,103.78 792.48,105.2C789.66,106.61 786.63,108.59 784,110.29C781.37,111.98 779.05,114.25 776.7,115.38C774.36,116.51 772.18,115.94 769.92,117.07C767.66,118.2 764.97,121.11 763.13,122.16C761.29,123.22 760.02,122.34 758.89,123.39C757.76,124.45 757.33,127.07 756.34,128.48C755.35,129.9 754.08,130.46 752.95,131.88C751.82,133.29 750.55,133.86 749.56,136.97C748.57,140.08 747.72,147.43 747.01,150.54C746.3,153.65 746.02,156.48 745.31,155.63C744.61,154.78 743.76,149.13 742.77,145.45C741.78,141.77 740.79,137.25 739.38,133.57C737.96,129.9 736.55,127.27 734.29,123.39C732.02,119.51 728.35,113.88 725.8,110.29C723.26,106.69 721.28,104.07 719.02,101.8C716.75,99.54 714.55,98.13 712.23,96.71C709.91,95.3 706.29,93.88 705.1,93.32Z" fill="#97dafb" stroke="none"/>
<path d="M705.1,108.59C705.44,106.89 705.95,100.67 707.14,98.41C708.33,96.15 710.25,96.29 712.23,95.02C714.21,93.74 716.19,92.33 719.02,90.77C721.84,89.22 725.8,87.52 729.2,85.68C732.59,83.85 736.55,82.15 739.38,79.75C742.2,77.34 744.18,74.94 746.16,71.26C748.14,67.59 749.84,62.21 751.25,57.69C752.67,53.16 753.52,47.93 754.65,44.11C755.78,40.3 756.91,36.82 758.04,34.78C759.17,32.75 759.74,32.18 761.43,31.9C763.13,31.62 765.68,33.03 768.22,33.09C770.77,33.14 774.07,32.52 776.7,32.24C779.33,31.95 781.65,32.1 784,31.39C786.35,30.68 788.52,30.12 790.79,28C793.05,25.87 795.59,20.73 797.57,18.66C799.55,16.6 800.68,15.47 802.66,15.61C804.64,15.75 806.91,17.02 809.45,19.51C812,22 815.11,27.85 817.93,30.54C820.76,33.23 823.59,35.07 826.42,35.63C829.25,36.2 831.23,34.64 834.9,33.93C838.58,33.23 844.8,32.38 848.48,31.39C852.15,30.4 854.41,29.13 856.96,28C859.5,26.86 861.77,25.08 863.75,24.6C865.72,24.12 866.29,24.4 868.84,25.11C871.38,25.82 875.62,27.52 879.02,28.84C882.41,30.17 885.8,31.81 889.2,33.09C892.59,34.36 896.55,36.2 899.38,36.48C902.2,36.76 903.9,36.06 906.16,34.78C908.43,33.51 910.69,30.68 912.95,28.84C915.21,27.01 917.67,24.8 919.74,23.75C921.8,22.71 924.26,21.44 925.34,22.57C926.41,23.7 926.07,27.8 926.18,30.54C926.3,33.28 926.38,35.63 926.01,39.02C925.65,42.42 925.03,46.66 923.98,50.9C922.93,55.14 921.29,60.94 919.74,64.48C918.18,68.01 916.91,70.13 914.65,72.11C912.38,74.09 909.56,74.51 906.16,76.35C902.77,78.19 898.53,81.02 894.29,83.14C890.04,85.26 884.95,87.38 880.71,89.08C876.47,90.77 872.79,91.76 868.84,93.32C864.88,94.87 860.35,96.85 856.96,98.41C853.57,99.96 851.59,101.38 848.48,102.65C845.36,103.92 841.97,105.48 838.29,106.04C834.62,106.61 830.38,106.41 826.42,106.04C822.46,105.68 818.78,104.4 814.54,103.84C810.3,103.27 804.64,102.28 800.97,102.65C797.29,103.02 795.31,104.63 792.48,106.04C789.66,107.46 786.63,109.58 784,111.13C781.37,112.69 779.05,114.22 776.7,115.38C774.36,116.54 771.76,116.7 769.92,118.09C768.08,119.48 766.81,122 765.68,123.73C764.54,125.46 764.12,126.56 763.13,128.48C762.14,130.41 760.87,131.59 759.74,135.27C758.61,138.95 757.47,145.17 756.34,150.54C755.21,155.91 753.94,162.7 752.95,167.51C751.96,172.32 751.2,176.56 750.41,179.38C749.61,182.21 748.91,184.48 748.2,184.48C747.49,184.48 747.07,182.5 746.16,179.38C745.26,176.27 743.9,170.62 742.77,165.81C741.64,161 740.79,155.63 739.38,150.54C737.96,145.45 736.27,139.79 734.29,135.27C732.31,130.75 729.48,126.43 727.5,123.39C725.52,120.36 724.39,118.97 722.41,117.07C720.43,115.17 717.88,113.11 715.62,111.98C713.36,110.85 710.59,110.85 708.84,110.29C707.08,109.72 705.72,108.87 705.1,108.59" fill="none" stroke="#c9659b" stroke-width="2.1" stroke-linejoin="round"/>
<rect x="690.5" y="2" width="248.7" height="200.3" fill="none" stroke="#1a1a1a" stroke-width="1.6"/>
<line x1="704.9" y1="202.3" x2="704.9" y2="198.3" stroke="#1a1a1a" stroke-width="1.4"/><line x1="746.27" y1="202.3" x2="746.27" y2="198.3" stroke="#1a1a1a" stroke-width="1.4"/><line x1="787.64" y1="202.3" x2="787.64" y2="198.3" stroke="#1a1a1a" stroke-width="1.4"/><line x1="829.01" y1="202.3" x2="829.01" y2="198.3" stroke="#1a1a1a" stroke-width="1.4"/><line x1="870.38" y1="202.3" x2="870.38" y2="198.3" stroke="#1a1a1a" stroke-width="1.4"/><line x1="911.75" y1="202.3" x2="911.75" y2="198.3" stroke="#1a1a1a" stroke-width="1.4"/>
<line x1="690.5" y1="32.18" x2="694.5" y2="32.18" stroke="#1a1a1a" stroke-width="1.4"/><line x1="690.5" y1="72.3" x2="694.5" y2="72.3" stroke="#1a1a1a" stroke-width="1.4"/><line x1="690.5" y1="112.42" x2="694.5" y2="112.42" stroke="#1a1a1a" stroke-width="1.4"/><line x1="690.5" y1="152.54" x2="694.5" y2="152.54" stroke="#1a1a1a" stroke-width="1.4"/><line x1="690.5" y1="192.66" x2="694.5" y2="192.66" stroke="#1a1a1a" stroke-width="1.4"/>
<text x="686.3" y="36.73" font-size="15.5" fill="#1a1a1a" text-anchor="end" stroke="#1a1a1a" stroke-width="0.3">2</text><text x="686.3" y="76.85" font-size="15.5" fill="#1a1a1a" text-anchor="end" stroke="#1a1a1a" stroke-width="0.3">0</text><text x="686.3" y="116.97" font-size="15.5" fill="#1a1a1a" text-anchor="end" stroke="#1a1a1a" stroke-width="0.3">-2</text><text x="686.3" y="157.09" font-size="15.5" fill="#1a1a1a" text-anchor="end" stroke="#1a1a1a" stroke-width="0.3">-4</text><text x="686.3" y="197.21" font-size="15.5" fill="#1a1a1a" text-anchor="end" stroke="#1a1a1a" stroke-width="0.3">-6</text>
<text x="702.9" y="219.8" font-size="15.5" fill="#1a1a1a" text-anchor="middle" stroke="#1a1a1a" stroke-width="0.3">-1.0</text><text x="744.27" y="219.8" font-size="15.5" fill="#1a1a1a" text-anchor="middle" stroke="#1a1a1a" stroke-width="0.3">-0.7</text><text x="785.64" y="219.8" font-size="15.5" fill="#1a1a1a" text-anchor="middle" stroke="#1a1a1a" stroke-width="0.3">-0.4</text><text x="827.01" y="219.8" font-size="15.5" fill="#1a1a1a" text-anchor="middle" stroke="#1a1a1a" stroke-width="0.3">-0.1</text><text x="871.38" y="219.8" font-size="15.5" fill="#1a1a1a" text-anchor="middle" stroke="#1a1a1a" stroke-width="0.3">0.2</text><text x="912.75" y="219.8" font-size="15.5" fill="#1a1a1a" text-anchor="middle" stroke="#1a1a1a" stroke-width="0.3">0.5</text>
<text x="815" y="243" font-size="17" fill="#1a1a1a" text-anchor="middle" stroke="#1a1a1a" stroke-width="0.3">Potential (V <tspan font-style="italic">vs.</tspan> Ag/AgCl)</text>
<text x="654.7" y="111.8" font-size="16.5" fill="#1a1a1a" text-anchor="middle" stroke="#1a1a1a" stroke-width="0.3" transform="rotate(-90 654.7 111.8)">Current Density (A g<tspan font-size="11" baseline-shift="6.5">−1</tspan>)</text>
<text x="642.3" y="18.7" font-size="24.5" fill="#1a1a1a" font-weight="bold">c</text>
<text x="810" y="78" font-size="13" fill="#263238" text-anchor="middle" stroke="#263238" stroke-width="0.4">91.1%</text>
<line x1="830.1" y1="150.5" x2="860.3" y2="150.5" stroke="#c9659b" stroke-width="1.9"/>
<text x="863.5" y="155.1" font-size="13" fill="#1a1a1a" stroke="#1a1a1a" stroke-width="0.3">6 mV s<tspan font-size="9" baseline-shift="5">−1</tspan></text>
<rect x="831" y="159.9" width="29.3" height="14.1" fill="#97dafb" stroke="#8cc8e8" stroke-width="0.5"/>
<text x="863.5" y="171" font-size="13" fill="#1a1a1a" stroke="#1a1a1a" stroke-width="0.3">Capacitive</text>
</g>
<g id="panel-d">
<defs><linearGradient id="gBlue" x1="0" y1="0" x2="0" y2="1"><stop offset="0" stop-color="#48b9fc"/><stop offset="0.15" stop-color="#5cc0fc"/><stop offset="0.35" stop-color="#88cffb"/><stop offset="0.5" stop-color="#aedcfc"/><stop offset="0.65" stop-color="#d3ebfd"/><stop offset="0.8" stop-color="#ecf5fc"/><stop offset="0.9" stop-color="#f6f7f9"/><stop offset="1" stop-color="#fbfbfb"/></linearGradient><linearGradient id="gPink" x1="0" y1="0" x2="0" y2="1"><stop offset="0" stop-color="#e09ac2"/><stop offset="0.35" stop-color="#ebc0d9"/><stop offset="0.7" stop-color="#fbf1f6"/><stop offset="0.88" stop-color="#ffffff"/></linearGradient></defs>
<rect x="58.9" y="286.5" width="34.8" height="22.83" fill="url(#gPink)"/>
<rect x="58.9" y="309.33" width="34.8" height="131.17" fill="url(#gBlue)"/>
<text x="81.1" y="355" font-size="13.3" fill="#1c2b36" text-anchor="middle" stroke="#1c2b36" stroke-width="0.42" transform="rotate(-90 81.1 355)">86.9%</text>
<rect x="108.5" y="286.5" width="34.8" height="19" fill="url(#gPink)"/>
<rect x="108.5" y="305.5" width="34.8" height="135" fill="url(#gBlue)"/>
<text x="130.7" y="355" font-size="13.3" fill="#1c2b36" text-anchor="middle" stroke="#1c2b36" stroke-width="0.42" transform="rotate(-90 130.7 355)">89.1%</text>
<rect x="158.4" y="286.5" width="34.8" height="15.51" fill="url(#gPink)"/>
<rect x="158.4" y="302.01" width="34.8" height="138.49" fill="url(#gBlue)"/>
<text x="180.6" y="355" font-size="13.3" fill="#1c2b36" text-anchor="middle" stroke="#1c2b36" stroke-width="0.42" transform="rotate(-90 180.6 355)">91.1%</text>
<rect x="208.2" y="286.5" width="34.8" height="11.85" fill="url(#gPink)"/>
<rect x="208.2" y="298.35" width="34.8" height="142.15" fill="url(#gBlue)"/>
<text x="230.4" y="355" font-size="13.3" fill="#1c2b36" text-anchor="middle" stroke="#1c2b36" stroke-width="0.42" transform="rotate(-90 230.4 355)">93.2%</text>
<rect x="257.9" y="286.5" width="34.8" height="6.27" fill="url(#gPink)"/>
<rect x="257.9" y="292.77" width="34.8" height="147.73" fill="url(#gBlue)"/>
<text x="280.1" y="355" font-size="13.3" fill="#1c2b36" text-anchor="middle" stroke="#1c2b36" stroke-width="0.42" transform="rotate(-90 280.1 355)">96.4%</text>
<rect x="66.5" y="266.5" width="28.5" height="10" fill="url(#gPink)"/>
<text x="99.8" y="278" font-size="13" fill="#1a1a1a" stroke="#1a1a1a" stroke-width="0.3">Diffusive</text>
<linearGradient id="gBlue2" x1="0" y1="0" x2="0" y2="1"><stop offset="0" stop-color="#45b8fc"/><stop offset="0.5" stop-color="#8fd0fb"/><stop offset="1" stop-color="#ffffff"/></linearGradient>
<rect x="198.2" y="266.5" width="28.5" height="10" fill="url(#gBlue2)"/>
<text x="231.3" y="278" font-size="13" fill="#1a1a1a" stroke="#1a1a1a" stroke-width="0.3">Capactive</text>
<rect x="51.2" y="260.7" width="248.8" height="200.1" fill="none" stroke="#1a1a1a" stroke-width="1.6"/>
<line x1="76.3" y1="460.8" x2="76.3" y2="456.8" stroke="#1a1a1a" stroke-width="1.4"/><line x1="125.9" y1="460.8" x2="125.9" y2="456.8" stroke="#1a1a1a" stroke-width="1.4"/><line x1="175.8" y1="460.8" x2="175.8" y2="456.8" stroke="#1a1a1a" stroke-width="1.4"/><line x1="225.6" y1="460.8" x2="225.6" y2="456.8" stroke="#1a1a1a" stroke-width="1.4"/><line x1="275.3" y1="460.8" x2="275.3" y2="456.8" stroke="#1a1a1a" stroke-width="1.4"/>
<line x1="51.2" y1="286.5" x2="55.2" y2="286.5" stroke="#1a1a1a" stroke-width="1.4"/><line x1="51.2" y1="321.36" x2="55.2" y2="321.36" stroke="#1a1a1a" stroke-width="1.4"/><line x1="51.2" y1="356.22" x2="55.2" y2="356.22" stroke="#1a1a1a" stroke-width="1.4"/><line x1="51.2" y1="391.08" x2="55.2" y2="391.08" stroke="#1a1a1a" stroke-width="1.4"/><line x1="51.2" y1="425.94" x2="55.2" y2="425.94" stroke="#1a1a1a" stroke-width="1.4"/>
<text x="46.9" y="290.98" font-size="15.3" fill="#1a1a1a" text-anchor="end" stroke="#1a1a1a" stroke-width="0.3">100</text><text x="46.9" y="325.84" font-size="15.3" fill="#1a1a1a" text-anchor="end" stroke="#1a1a1a" stroke-width="0.3">80</text><text x="46.9" y="360.7" font-size="15.3" fill="#1a1a1a" text-anchor="end" stroke="#1a1a1a" stroke-width="0.3">60</text><text x="46.9" y="395.56" font-size="15.3" fill="#1a1a1a" text-anchor="end" stroke="#1a1a1a" stroke-width="0.3">40</text><text x="46.9" y="430.42" font-size="15.3" fill="#1a1a1a" text-anchor="end" stroke="#1a1a1a" stroke-width="0.3">20</text><text x="46.9" y="465.28" font-size="15.3" fill="#1a1a1a" text-anchor="end" stroke="#1a1a1a" stroke-width="0.3">0</text>
<text x="76.3" y="476.2" font-size="15.3" fill="#1a1a1a" text-anchor="middle" stroke="#1a1a1a" stroke-width="0.3">2</text><text x="125.9" y="476.2" font-size="15.3" fill="#1a1a1a" text-anchor="middle" stroke="#1a1a1a" stroke-width="0.3">4</text><text x="175.8" y="476.2" font-size="15.3" fill="#1a1a1a" text-anchor="middle" stroke="#1a1a1a" stroke-width="0.3">6</text><text x="225.6" y="476.2" font-size="15.3" fill="#1a1a1a" text-anchor="middle" stroke="#1a1a1a" stroke-width="0.3">8</text><text x="275.3" y="476.2" font-size="15.3" fill="#1a1a1a" text-anchor="middle" stroke="#1a1a1a" stroke-width="0.3">10</text>
<text x="176" y="499.6" font-size="16.9" fill="#1a1a1a" text-anchor="middle" stroke="#1a1a1a" stroke-width="0.3">Scan Rate (mV s<tspan font-size="9.5" baseline-shift="6.5">−1</tspan>)</text>
<text x="18.5" y="353.2" font-size="17.9" fill="#1a1a1a" text-anchor="middle" stroke="#1a1a1a" stroke-width="0.3" transform="rotate(-90 18.5 353.2)">Contribution (%)</text>
<text x="6" y="281.5" font-size="25.5" fill="#1a1a1a" stroke="#1a1a1a" stroke-width="0.3">d</text>
</g>
<g id="panel-e">
<rect x="372.8" y="260.5" width="248.5" height="200.8" fill="none" stroke="#1a1a1a" stroke-width="1.6"/>
<line x1="426.02" y1="461.3" x2="426.02" y2="457.3" stroke="#1a1a1a" stroke-width="1.4"/><line x1="479.24" y1="461.3" x2="479.24" y2="457.3" stroke="#1a1a1a" stroke-width="1.4"/><line x1="532.46" y1="461.3" x2="532.46" y2="457.3" stroke="#1a1a1a" stroke-width="1.4"/><line x1="585.68" y1="461.3" x2="585.68" y2="457.3" stroke="#1a1a1a" stroke-width="1.4"/>
<line x1="372.8" y1="288.98" x2="376.8" y2="288.98" stroke="#1a1a1a" stroke-width="1.4"/><line x1="372.8" y1="332.06" x2="376.8" y2="332.06" stroke="#1a1a1a" stroke-width="1.4"/><line x1="372.8" y1="375.14" x2="376.8" y2="375.14" stroke="#1a1a1a" stroke-width="1.4"/><line x1="372.8" y1="418.22" x2="376.8" y2="418.22" stroke="#1a1a1a" stroke-width="1.4"/>
<path d="M381.3,460.3L384,458.3L388,456.6L392,455L396.5,451.4L401,444.5L405.5,437L410.1,429.4L413.2,424L416.5,416.1L420.3,408.7L423.7,400.9L427.6,392.1L432.5,382.2L437.6,371.5L443.5,358.1" fill="none" stroke="#5b6ef5" stroke-width="2" stroke-linejoin="round"/>
<circle cx="382.59" cy="459.34" r="3.5" fill="#5b6ef5"/>
<circle cx="384.86" cy="457.93" r="3.5" fill="#5b6ef5"/>
<circle cx="387.61" cy="456.77" r="3.5" fill="#5b6ef5"/>
<circle cx="390.69" cy="455.53" r="3.5" fill="#5b6ef5"/>
<circle cx="393.77" cy="453.58" r="3.5" fill="#5b6ef5"/>
<circle cx="396.83" cy="450.9" r="3.5" fill="#5b6ef5"/>
<circle cx="399.31" cy="447.08" r="3.5" fill="#5b6ef5"/>
<circle cx="402.01" cy="442.81" r="3.5" fill="#5b6ef5"/>
<circle cx="404.9" cy="437.99" r="3.5" fill="#5b6ef5"/>
<circle cx="408.13" cy="432.65" r="3.5" fill="#5b6ef5"/>
<circle cx="411.66" cy="426.68" r="3.5" fill="#5b6ef5"/>
<circle cx="414.98" cy="419.74" r="3.5" fill="#5b6ef5"/>
<circle cx="418.61" cy="411.99" r="3.5" fill="#5b6ef5"/>
<circle cx="422.62" cy="403.37" r="3.5" fill="#5b6ef5"/>
<circle cx="426.89" cy="393.7" r="3.5" fill="#5b6ef5"/>
<circle cx="432.03" cy="383.15" r="3.5" fill="#5b6ef5"/>
<circle cx="437.66" cy="371.37" r="3.5" fill="#5b6ef5"/>
<circle cx="443.5" cy="358.1" r="3.5" fill="#5b6ef5"/>
<path d="M381.3,460.3L384,458.3L388,456.6L393,455.6L398,454.5L403,451.5L409,446L415,440L421,433.5L426,428L432.2,422.6L436.4,414.1L441.5,406.5L445.7,398.8L450.5,390.4L456.8,381L463.3,370L471,356.2" fill="none" stroke="#ff7f0e" stroke-width="2" stroke-linejoin="round"/>
<circle cx="382.52" cy="459.4" r="3.5" fill="#ff7f0e"/>
<circle cx="383.8" cy="458.45" r="3.5" fill="#ff7f0e"/>
<circle cx="385.25" cy="457.77" r="3.5" fill="#ff7f0e"/>
<circle cx="386.72" cy="457.14" r="3.5" fill="#ff7f0e"/>
<circle cx="388.2" cy="456.56" r="3.5" fill="#ff7f0e"/>
<circle cx="389.77" cy="456.25" r="3.5" fill="#ff7f0e"/>
<circle cx="391.34" cy="455.93" r="3.5" fill="#ff7f0e"/>
<circle cx="392.91" cy="455.62" r="3.5" fill="#ff7f0e"/>
<circle cx="394.47" cy="455.28" r="3.5" fill="#ff7f0e"/>
<circle cx="396.04" cy="454.93" r="3.5" fill="#ff7f0e"/>
<circle cx="397.6" cy="454.59" r="3.5" fill="#ff7f0e"/>
<circle cx="399.02" cy="453.89" r="3.5" fill="#ff7f0e"/>
<circle cx="400.39" cy="453.06" r="3.5" fill="#ff7f0e"/>
<circle cx="401.76" cy="452.24" r="3.5" fill="#ff7f0e"/>
<circle cx="403.12" cy="451.39" r="3.5" fill="#ff7f0e"/>
<circle cx="404.3" cy="450.31" r="3.5" fill="#ff7f0e"/>
<circle cx="405.48" cy="449.23" r="3.5" fill="#ff7f0e"/>
<circle cx="406.66" cy="448.15" r="3.5" fill="#ff7f0e"/>
<circle cx="407.83" cy="447.07" r="3.5" fill="#ff7f0e"/>
<circle cx="409.1" cy="445.9" r="3.5" fill="#ff7f0e"/>
<circle cx="410.5" cy="444.5" r="3.5" fill="#ff7f0e"/>
<circle cx="412.11" cy="442.89" r="3.5" fill="#ff7f0e"/>
<circle cx="413.96" cy="441.04" r="3.5" fill="#ff7f0e"/>
<circle cx="416.05" cy="438.87" r="3.5" fill="#ff7f0e"/>
<circle cx="418.39" cy="436.33" r="3.5" fill="#ff7f0e"/>
<circle cx="421.09" cy="433.41" r="3.5" fill="#ff7f0e"/>
<circle cx="424.16" cy="430.02" r="3.5" fill="#ff7f0e"/>
<circle cx="427.9" cy="426.35" r="3.5" fill="#ff7f0e"/>
<circle cx="432.35" cy="422.3" r="3.5" fill="#ff7f0e"/>
<circle cx="435.42" cy="416.08" r="3.5" fill="#ff7f0e"/>
<circle cx="439.61" cy="409.32" r="3.5" fill="#ff7f0e"/>
<circle cx="444.27" cy="401.43" r="3.5" fill="#ff7f0e"/>
<circle cx="449.44" cy="392.25" r="3.5" fill="#ff7f0e"/>
<circle cx="456.05" cy="382.11" r="3.5" fill="#ff7f0e"/>
<circle cx="463.2" cy="370.17" r="3.5" fill="#ff7f0e"/>
<circle cx="471" cy="356.2" r="3.5" fill="#ff7f0e"/>
<path d="M381.3,460.3L384,458.3L388,456.6L393,455.6L397,454.8L401.6,451.4L407,446L413,439L419,431L425.4,421.7L428.8,416.7L432.2,411.2L436.4,404.4L441.2,396.6L446.6,387.8L453.6,376.8L461,365.4" fill="none" stroke="#9a9a10" stroke-width="2" stroke-linejoin="round"/>
<circle cx="381.78" cy="459.95" r="3.5" fill="#9a9a10"/>
<circle cx="383.06" cy="458.99" r="3.5" fill="#9a9a10"/>
<circle cx="384.4" cy="458.13" r="3.5" fill="#9a9a10"/>
<circle cx="385.87" cy="457.5" r="3.5" fill="#9a9a10"/>
<circle cx="387.35" cy="456.88" r="3.5" fill="#9a9a10"/>
<circle cx="388.87" cy="456.43" r="3.5" fill="#9a9a10"/>
<circle cx="390.44" cy="456.11" r="3.5" fill="#9a9a10"/>
<circle cx="392.01" cy="455.8" r="3.5" fill="#9a9a10"/>
<circle cx="393.58" cy="455.48" r="3.5" fill="#9a9a10"/>
<circle cx="395.15" cy="455.17" r="3.5" fill="#9a9a10"/>
<circle cx="396.72" cy="454.86" r="3.5" fill="#9a9a10"/>
<circle cx="398.05" cy="454.02" r="3.5" fill="#9a9a10"/>
<circle cx="399.34" cy="453.07" r="3.5" fill="#9a9a10"/>
<circle cx="400.63" cy="452.12" r="3.5" fill="#9a9a10"/>
<circle cx="401.88" cy="451.12" r="3.5" fill="#9a9a10"/>
<circle cx="403.01" cy="449.99" r="3.5" fill="#9a9a10"/>
<circle cx="404.14" cy="448.86" r="3.5" fill="#9a9a10"/>
<circle cx="405.39" cy="447.61" r="3.5" fill="#9a9a10"/>
<circle cx="406.82" cy="446.18" r="3.5" fill="#9a9a10"/>
<circle cx="408.32" cy="444.46" r="3.5" fill="#9a9a10"/>
<circle cx="410.01" cy="442.49" r="3.5" fill="#9a9a10"/>
<circle cx="411.93" cy="440.24" r="3.5" fill="#9a9a10"/>
<circle cx="414.03" cy="437.62" r="3.5" fill="#9a9a10"/>
<circle cx="416.32" cy="434.57" r="3.5" fill="#9a9a10"/>
<circle cx="418.92" cy="431.1" r="3.5" fill="#9a9a10"/>
<circle cx="421.72" cy="427.05" r="3.5" fill="#9a9a10"/>
<circle cx="424.89" cy="422.43" r="3.5" fill="#9a9a10"/>
<circle cx="428.48" cy="417.18" r="3.5" fill="#9a9a10"/>
<circle cx="432.3" cy="411.04" r="3.5" fill="#9a9a10"/>
<circle cx="436.62" cy="404.05" r="3.5" fill="#9a9a10"/>
<circle cx="441.51" cy="396.1" r="3.5" fill="#9a9a10"/>
<circle cx="447.07" cy="387.06" r="3.5" fill="#9a9a10"/>
<circle cx="453.54" cy="376.89" r="3.5" fill="#9a9a10"/>
<circle cx="461" cy="365.4" r="3.5" fill="#9a9a10"/>
<path d="M381.3,460.3L384,458.3L388,456.6L393,455.6L398,455.2L403,454L408.4,451.4L413,447L418,442L423,437L427.1,432.8L429.6,427.2L433.9,419.7L438.6,411.6L444,402.6" fill="none" stroke="#2e9afe" stroke-width="2" stroke-linejoin="round"/>
<circle cx="381.35" cy="460.26" r="3.5" fill="#2e9afe"/>
<circle cx="382.63" cy="459.31" r="3.5" fill="#2e9afe"/>
<circle cx="383.92" cy="458.36" r="3.5" fill="#2e9afe"/>
<circle cx="385.38" cy="457.71" r="3.5" fill="#2e9afe"/>
<circle cx="386.85" cy="457.09" r="3.5" fill="#2e9afe"/>
<circle cx="388.35" cy="456.53" r="3.5" fill="#2e9afe"/>
<circle cx="389.92" cy="456.22" r="3.5" fill="#2e9afe"/>
<circle cx="391.49" cy="455.9" r="3.5" fill="#2e9afe"/>
<circle cx="393.05" cy="455.6" r="3.5" fill="#2e9afe"/>
<circle cx="394.65" cy="455.47" r="3.5" fill="#2e9afe"/>
<circle cx="396.24" cy="455.34" r="3.5" fill="#2e9afe"/>
<circle cx="397.84" cy="455.21" r="3.5" fill="#2e9afe"/>
<circle cx="399.4" cy="454.86" r="3.5" fill="#2e9afe"/>
<circle cx="400.96" cy="454.49" r="3.5" fill="#2e9afe"/>
<circle cx="402.51" cy="454.12" r="3.5" fill="#2e9afe"/>
<circle cx="404.17" cy="453.44" r="3.5" fill="#2e9afe"/>
<circle cx="406.06" cy="452.53" r="3.5" fill="#2e9afe"/>
<circle cx="408.25" cy="451.47" r="3.5" fill="#2e9afe"/>
<circle cx="410.32" cy="449.56" r="3.5" fill="#2e9afe"/>
<circle cx="412.7" cy="447.28" r="3.5" fill="#2e9afe"/>
<circle cx="415.42" cy="444.58" r="3.5" fill="#2e9afe"/>
<circle cx="418.56" cy="441.44" r="3.5" fill="#2e9afe"/>
<circle cx="422.22" cy="437.78" r="3.5" fill="#2e9afe"/>
<circle cx="426.43" cy="433.48" r="3.5" fill="#2e9afe"/>
<circle cx="429.56" cy="427.28" r="3.5" fill="#2e9afe"/>
<circle cx="433.6" cy="420.22" r="3.5" fill="#2e9afe"/>
<circle cx="438.35" cy="412.04" r="3.5" fill="#2e9afe"/>
<circle cx="444" cy="402.6" r="3.5" fill="#2e9afe"/>
<path d="M381.3,460.3L384,458.3L388,456.6L393,455.6L398,455.2L404,455.5L411.8,455.5L416,454.5L420.3,453.1L426,450L432,445.5L438,439L444.9,431.1L449.1,426.5L453.4,421.7L458.5,416.7L463.9,411.2L470,404.8L477.6,396.3L486.1,387.5L497.1,376.4L509.9,365.4" fill="none" stroke="#c873a5" stroke-width="2" stroke-linejoin="round"/>
<circle cx="382.14" cy="459.67" r="3.5" fill="#c873a5"/>
<circle cx="383.43" cy="458.72" r="3.5" fill="#c873a5"/>
<circle cx="384.82" cy="457.95" r="3.5" fill="#c873a5"/>
<circle cx="386.29" cy="457.33" r="3.5" fill="#c873a5"/>
<circle cx="387.77" cy="456.7" r="3.5" fill="#c873a5"/>
<circle cx="389.32" cy="456.34" r="3.5" fill="#c873a5"/>
<circle cx="390.89" cy="456.02" r="3.5" fill="#c873a5"/>
<circle cx="392.46" cy="455.71" r="3.5" fill="#c873a5"/>
<circle cx="394.04" cy="455.52" r="3.5" fill="#c873a5"/>
<circle cx="395.64" cy="455.39" r="3.5" fill="#c873a5"/>
<circle cx="397.23" cy="455.26" r="3.5" fill="#c873a5"/>
<circle cx="398.83" cy="455.24" r="3.5" fill="#c873a5"/>
<circle cx="400.43" cy="455.32" r="3.5" fill="#c873a5"/>
<circle cx="402.02" cy="455.4" r="3.5" fill="#c873a5"/>
<circle cx="403.62" cy="455.48" r="3.5" fill="#c873a5"/>
<circle cx="405.22" cy="455.5" r="3.5" fill="#c873a5"/>
<circle cx="406.82" cy="455.5" r="3.5" fill="#c873a5"/>
<circle cx="408.42" cy="455.5" r="3.5" fill="#c873a5"/>
<circle cx="410.02" cy="455.5" r="3.5" fill="#c873a5"/>
<circle cx="411.62" cy="455.5" r="3.5" fill="#c873a5"/>
<circle cx="413.18" cy="455.17" r="3.5" fill="#c873a5"/>
<circle cx="414.74" cy="454.8" r="3.5" fill="#c873a5"/>
<circle cx="416.29" cy="454.41" r="3.5" fill="#c873a5"/>
<circle cx="417.81" cy="453.91" r="3.5" fill="#c873a5"/>
<circle cx="419.33" cy="453.41" r="3.5" fill="#c873a5"/>
<circle cx="420.81" cy="452.82" r="3.5" fill="#c873a5"/>
<circle cx="422.22" cy="452.06" r="3.5" fill="#c873a5"/>
<circle cx="423.62" cy="451.29" r="3.5" fill="#c873a5"/>
<circle cx="425.03" cy="450.53" r="3.5" fill="#c873a5"/>
<circle cx="426.4" cy="449.7" r="3.5" fill="#c873a5"/>
<circle cx="427.68" cy="448.74" r="3.5" fill="#c873a5"/>
<circle cx="428.96" cy="447.78" r="3.5" fill="#c873a5"/>
<circle cx="430.24" cy="446.82" r="3.5" fill="#c873a5"/>
<circle cx="431.52" cy="445.86" r="3.5" fill="#c873a5"/>
<circle cx="432.67" cy="444.77" r="3.5" fill="#c873a5"/>
<circle cx="433.81" cy="443.54" r="3.5" fill="#c873a5"/>
<circle cx="435.13" cy="442.11" r="3.5" fill="#c873a5"/>
<circle cx="436.68" cy="440.43" r="3.5" fill="#c873a5"/>
<circle cx="438.48" cy="438.45" r="3.5" fill="#c873a5"/>
<circle cx="440.53" cy="436.1" r="3.5" fill="#c873a5"/>
<circle cx="442.93" cy="433.35" r="3.5" fill="#c873a5"/>
<circle cx="445.77" cy="430.15" r="3.5" fill="#c873a5"/>
<circle cx="449.14" cy="426.46" r="3.5" fill="#c873a5"/>
<circle cx="453.04" cy="422.11" r="3.5" fill="#c873a5"/>
<circle cx="457.89" cy="417.3" r="3.5" fill="#c873a5"/>
<circle cx="463.51" cy="411.6" r="3.5" fill="#c873a5"/>
<circle cx="469.96" cy="404.84" r="3.5" fill="#c873a5"/>
<circle cx="477.26" cy="396.68" r="3.5" fill="#c873a5"/>
<circle cx="486.13" cy="387.47" r="3.5" fill="#c873a5"/>
<circle cx="496.66" cy="376.84" r="3.5" fill="#c873a5"/>
<circle cx="509.9" cy="365.4" r="3.5" fill="#c873a5"/>
<line x1="372.8" y1="461.3" x2="621.3" y2="461.3" stroke="#1a1a1a" stroke-width="1.6"/>
<text x="368.5" y="293.21" font-size="14.6" fill="#1a1a1a" text-anchor="end" stroke="#1a1a1a" stroke-width="0.3">120</text><text x="368.5" y="336.29" font-size="14.6" fill="#1a1a1a" text-anchor="end" stroke="#1a1a1a" stroke-width="0.3">90</text><text x="368.5" y="379.37" font-size="14.6" fill="#1a1a1a" text-anchor="end" stroke="#1a1a1a" stroke-width="0.3">60</text><text x="368.5" y="422.45" font-size="14.6" fill="#1a1a1a" text-anchor="end" stroke="#1a1a1a" stroke-width="0.3">30</text><text x="368.5" y="465.53" font-size="14.6" fill="#1a1a1a" text-anchor="end" stroke="#1a1a1a" stroke-width="0.3">0</text>
<text x="372.8" y="476.5" font-size="14.8" fill="#1a1a1a" text-anchor="middle" stroke="#1a1a1a" stroke-width="0.3">0</text><text x="426.02" y="476.5" font-size="14.8" fill="#1a1a1a" text-anchor="middle" stroke="#1a1a1a" stroke-width="0.3">30</text><text x="479.24" y="476.5" font-size="14.8" fill="#1a1a1a" text-anchor="middle" stroke="#1a1a1a" stroke-width="0.3">60</text><text x="532.46" y="476.5" font-size="14.8" fill="#1a1a1a" text-anchor="middle" stroke="#1a1a1a" stroke-width="0.3">90</text><text x="585.68" y="476.5" font-size="14.8" fill="#1a1a1a" text-anchor="middle" stroke="#1a1a1a" stroke-width="0.3">120</text>
<text x="498.7" y="499" font-size="16.2" fill="#1a1a1a" text-anchor="middle" stroke="#1a1a1a" stroke-width="0.3"><tspan font-style="italic">Z</tspan>' (Ω)</text>
<text x="335" y="362.1" font-size="16.4" fill="#1a1a1a" text-anchor="middle" stroke="#1a1a1a" stroke-width="0.3" transform="rotate(-90 335 362.1)">−<tspan font-style="italic">Z</tspan>'' (Ω)</text>
<text x="322" y="281.5" font-size="25.5" fill="#1a1a1a" stroke="#1a1a1a" stroke-width="0.3">e</text>
<line x1="377.9" y1="271.2" x2="407.6" y2="271.2" stroke="#5b6ef5" stroke-width="2.2"/>
<circle cx="392.6" cy="271.2" r="3.6" fill="#5b6ef5"/>
<text x="410.1" y="275.9" font-size="13" fill="#7b8bfa" stroke="#7b8bfa" stroke-width="0.3">50 °C</text>
<line x1="377.9" y1="286.1" x2="407.6" y2="286.1" stroke="#ff7f0e" stroke-width="2.2"/>
<circle cx="392.6" cy="286.1" r="3.6" fill="#ff7f0e"/>
<text x="410.1" y="290.8" font-size="13" fill="#f7a878" stroke="#f7a878" stroke-width="0.3">40 °C</text>
<line x1="377.9" y1="301.7" x2="407.6" y2="301.7" stroke="#9a9a10" stroke-width="2.2"/>
<circle cx="392.6" cy="301.7" r="3.6" fill="#9a9a10"/>
<text x="410.1" y="306.4" font-size="13" fill="#a8a830" stroke="#a8a830" stroke-width="0.3">30 °C</text>
<line x1="377.9" y1="317" x2="407.6" y2="317" stroke="#2e9afe" stroke-width="2.2"/>
<circle cx="392.6" cy="317" r="3.6" fill="#2e9afe"/>
<text x="410.1" y="321.7" font-size="13" fill="#3aa8ff" stroke="#3aa8ff" stroke-width="0.3">20 °C</text>
<line x1="377.9" y1="332.6" x2="407.6" y2="332.6" stroke="#c873a5" stroke-width="2.2"/>
<circle cx="392.6" cy="332.6" r="3.6" fill="#c873a5"/>
<text x="410.1" y="337.3" font-size="13" fill="#d98fbb" stroke="#d98fbb" stroke-width="0.3">10 °C</text>
<line x1="447.1" y1="295.8" x2="461" y2="295.8" stroke="#1a1a1a" stroke-width="1.5"/>
<rect x="461" y="292.8" width="12" height="6.1" fill="#fff" stroke="#1a1a1a" stroke-width="1.5"/>
<line x1="473" y1="295.8" x2="483.6" y2="295.8" stroke="#1a1a1a" stroke-width="1.5"/>
<path d="M532.4,278.5 L483.6,278.5 L483.6,312.4 L512.4,312.4 M524.3,312.4 L593,312.4 L593,278.5 L538.4,278.5" fill="none" stroke="#1a1a1a" stroke-width="1.5"/>
<line x1="532.4" y1="272.9" x2="532.4" y2="283.9" stroke="#1a1a1a" stroke-width="1.6"/>
<line x1="538.4" y1="272.9" x2="538.4" y2="283.9" stroke="#1a1a1a" stroke-width="1.6"/>
<rect x="512.4" y="309.4" width="11.9" height="6.1" fill="#fff" stroke="#1a1a1a" stroke-width="1.5"/>
<circle cx="557.9" cy="312.4" r="3.7" fill="#000"/>
<line x1="593" y1="295.8" x2="614.2" y2="295.8" stroke="#1a1a1a" stroke-width="1.5"/>
<text x="534.1" y="295.2" font-size="13" fill="#1a1a1a" text-anchor="middle" stroke="#1a1a1a" stroke-width="0.3">CPE</text>
<text x="459.3" y="287.3" font-size="13" fill="#1a1a1a" stroke="#1a1a1a" stroke-width="0.3"><tspan font-style="italic">R</tspan><tspan font-size="9" baseline-shift="-2.5">s</tspan></text>
<text x="513.8" y="329.4" font-size="13" fill="#1a1a1a" stroke="#1a1a1a" stroke-width="0.3"><tspan font-style="italic">R</tspan><tspan font-size="9" baseline-shift="-2.5">ct</tspan></text>
<text x="553.1" y="329.4" font-size="13" fill="#1a1a1a" stroke="#1a1a1a" stroke-width="0.3"><tspan font-style="italic">Z</tspan><tspan font-size="9" baseline-shift="-2.5">w</tspan></text>
</g>
<g id="panel-f">
<rect x="690.5" y="259.7" width="250.4" height="201.6" fill="none" stroke="#1a1a1a" stroke-width="1.6"/>
<line x1="713.9" y1="461.3" x2="713.9" y2="457.3" stroke="#1a1a1a" stroke-width="1.4"/><line x1="760.35" y1="461.3" x2="760.35" y2="457.3" stroke="#1a1a1a" stroke-width="1.4"/><line x1="806.8" y1="461.3" x2="806.8" y2="457.3" stroke="#1a1a1a" stroke-width="1.4"/><line x1="853.25" y1="461.3" x2="853.25" y2="457.3" stroke="#1a1a1a" stroke-width="1.4"/><line x1="899.7" y1="461.3" x2="899.7" y2="457.3" stroke="#1a1a1a" stroke-width="1.4"/>
<line x1="690.5" y1="289.4" x2="694.5" y2="289.4" stroke="#1a1a1a" stroke-width="1.4"/><line x1="690.5" y1="326.75" x2="694.5" y2="326.75" stroke="#1a1a1a" stroke-width="1.4"/><line x1="690.5" y1="364.1" x2="694.5" y2="364.1" stroke="#1a1a1a" stroke-width="1.4"/><line x1="690.5" y1="401.45" x2="694.5" y2="401.45" stroke="#1a1a1a" stroke-width="1.4"/><line x1="690.5" y1="438.8" x2="694.5" y2="438.8" stroke="#1a1a1a" stroke-width="1.4"/>
<line x1="713.9" y1="317.5" x2="921.1" y2="411" stroke="#f07820" stroke-width="2.2"/>
<circle cx="713.9" cy="315.3" r="3.7" fill="#f07820"/>
<circle cx="760.3" cy="336.5" r="3.7" fill="#f07820"/>
<circle cx="806.9" cy="356.9" r="3.7" fill="#f07820"/>
<circle cx="853.1" cy="384.4" r="3.7" fill="#f07820"/>
<circle cx="921.1" cy="409.4" r="3.7" fill="#f07820"/>
<line x1="713.9" y1="306.5" x2="921.1" y2="398" stroke="#3399ff" stroke-width="2.2"/>
<circle cx="713.9" cy="304.6" r="3.7" fill="#3399ff"/>
<circle cx="760.3" cy="327.2" r="3.7" fill="#3399ff"/>
<circle cx="806.9" cy="345.9" r="3.7" fill="#3399ff"/>
<circle cx="853.1" cy="368.4" r="3.7" fill="#3399ff"/>
<circle cx="921.1" cy="396.6" r="3.7" fill="#3399ff"/>
<line x1="713.9" y1="296" x2="921.1" y2="379" stroke="#d07bb0" stroke-width="2.2"/>
<circle cx="713.9" cy="294.6" r="3.7" fill="#d07bb0"/>
<circle cx="760.3" cy="317" r="3.7" fill="#d07bb0"/>
<circle cx="806.9" cy="335.3" r="3.7" fill="#d07bb0"/>
<circle cx="853.1" cy="351.3" r="3.7" fill="#d07bb0"/>
<circle cx="921.1" cy="380.5" r="3.7" fill="#d07bb0"/>
<text x="686.2" y="294.06" font-size="15.8" fill="#1a1a1a" text-anchor="end" stroke="#1a1a1a" stroke-width="0.3">-1.0</text><text x="686.2" y="331.41" font-size="15.8" fill="#1a1a1a" text-anchor="end" stroke="#1a1a1a" stroke-width="0.3">-1.5</text><text x="686.2" y="368.76" font-size="15.8" fill="#1a1a1a" text-anchor="end" stroke="#1a1a1a" stroke-width="0.3">-2.0</text><text x="686.2" y="406.11" font-size="15.8" fill="#1a1a1a" text-anchor="end" stroke="#1a1a1a" stroke-width="0.3">-2.5</text><text x="686.2" y="443.46" font-size="15.8" fill="#1a1a1a" text-anchor="end" stroke="#1a1a1a" stroke-width="0.3">-3.0</text>
<text x="713.9" y="476.3" font-size="15.5" fill="#1a1a1a" text-anchor="middle" stroke="#1a1a1a" stroke-width="0.3">3.1</text><text x="760.35" y="476.3" font-size="15.5" fill="#1a1a1a" text-anchor="middle" stroke="#1a1a1a" stroke-width="0.3">3.2</text><text x="806.8" y="476.3" font-size="15.5" fill="#1a1a1a" text-anchor="middle" stroke="#1a1a1a" stroke-width="0.3">3.3</text><text x="853.25" y="476.3" font-size="15.5" fill="#1a1a1a" text-anchor="middle" stroke="#1a1a1a" stroke-width="0.3">3.4</text><text x="899.7" y="476.3" font-size="15.5" fill="#1a1a1a" text-anchor="middle" stroke="#1a1a1a" stroke-width="0.3">3.5</text>
<text x="816.3" y="498.2" font-size="17.2" fill="#1a1a1a" text-anchor="middle" stroke="#1a1a1a" stroke-width="0.3">1000/<tspan font-style="italic">T</tspan> (K<tspan font-size="11.5" baseline-shift="7.5">−1</tspan>)</text>
<text x="653.5" y="358" font-size="17.6" fill="#1a1a1a" text-anchor="middle" stroke="#1a1a1a" stroke-width="0.3" transform="rotate(-90 653.5 358)">ln[<tspan font-style="italic">R</tspan><tspan font-size="11" baseline-shift="-4">ct</tspan><tspan font-size="11" baseline-shift="6.5">−1</tspan>](Ω<tspan font-size="11" baseline-shift="6.5">−1</tspan>)</text>
<text x="643" y="281.5" font-size="25.5" fill="#1a1a1a" stroke="#1a1a1a" stroke-width="0.3">f</text>
<circle cx="705.4" cy="390.4" r="3.7" fill="#d88cba"/><text x="717.7" y="394.8" font-size="13.1" fill="#d88cba" stroke="#d88cba" stroke-width="0.3">BONs</text><text x="759.7" y="394.8" font-size="13.1" fill="#d88cba" stroke="#d88cba" stroke-width="0.3"><tspan font-style="italic">E</tspan><tspan font-size="9.5" baseline-shift="-3">a</tspan>=0.22 eV</text>
<circle cx="705.4" cy="409" r="3.7" fill="#3c9eff"/><text x="725" y="413.6" font-size="13.1" fill="#3c9eff" stroke="#3c9eff" stroke-width="0.3">PB</text><text x="760.6" y="413.6" font-size="13.1" fill="#3c9eff" stroke="#3c9eff" stroke-width="0.3"><tspan font-style="italic">E</tspan><tspan font-size="9.5" baseline-shift="-3">a</tspan>=0.34 eV</text>
<circle cx="705.4" cy="426.5" r="3.7" fill="#f08030"/><text x="725" y="431.2" font-size="13.1" fill="#f08030" stroke="#f08030" stroke-width="0.3">BQ</text><text x="758.9" y="431.2" font-size="13.1" fill="#f08030" stroke="#f08030" stroke-width="0.3"><tspan font-style="italic">E</tspan><tspan font-size="9.5" baseline-shift="-3">a</tspan>=0.45 eV</text>
</g>
<g id="panel-g">
<defs><radialGradient id="rgPink" cx="0.5" cy="0.5" r="0.62"><stop offset="0" stop-color="#fdf3f8"/><stop offset="0.3" stop-color="#e8b6d1"/><stop offset="0.6" stop-color="#d58ab4"/><stop offset="1" stop-color="#c96f9f"/></radialGradient><radialGradient id="rgBlue" cx="0.5" cy="0.5" r="0.62"><stop offset="0" stop-color="#f4faff"/><stop offset="0.3" stop-color="#a6d1fb"/><stop offset="0.6" stop-color="#5cacf6"/><stop offset="1" stop-color="#409df3"/></radialGradient></defs>
<text x="5.5" y="515.3" font-size="25.5" fill="#1a1a1a" stroke="#1a1a1a" stroke-width="0.3">g</text>
<g transform="translate(0 0)"><path d="M99.2,518.8L115.95,528.9L115.95,549.1L99.2,559.2L82.45,549.1L82.45,528.9Z" fill="url(#rgPink)" stroke="#111111" stroke-width="2" stroke-linejoin="round"/><line x1="99.8" y1="523.36" x2="111.86" y2="530.64" stroke="#111111" stroke-width="2" stroke-linecap="butt"/><line x1="98.6" y1="554.64" x2="86.54" y2="547.36" stroke="#111111" stroke-width="2" stroke-linecap="butt"/><line x1="83.29" y1="527.08" x2="73.64" y2="521.58" stroke="#111111" stroke-width="2" stroke-linecap="butt"/><line x1="81.21" y1="530.72" x2="71.56" y2="525.22" stroke="#111111" stroke-width="2" stroke-linecap="butt"/><text x="65.8" y="524.9" font-size="15" fill="#dc55c4" text-anchor="middle" font-weight="bold" stroke="#dc55c4" stroke-width="0.45">O</text><path d="M115.95,528.9L116.89,529.42L117.56,529.47L117.86,528.86L117.88,527.79L117.91,526.71L118.2,526.1L118.87,526.16L119.81,526.67L120.75,527.19L121.43,527.25L121.72,526.64L121.74,525.56L121.77,524.49L122.06,523.88L122.73,523.93L123.68,524.45L124.62,524.97L125.29,525.02L125.58,524.41L125.61,523.34L125.63,522.26L125.92,521.65L126.6,521.71L127.54,522.23L128.48,522.74L129.15,522.8L129.44,522.19L129.47,521.11L129.49,520.04L129.79,519.43L130.46,519.48L131.4,520" fill="none" stroke="#111111" stroke-width="2" stroke-linecap="round" stroke-linejoin="round"/><line x1="115.13" y1="550.93" x2="125.18" y2="556.53" stroke="#111111" stroke-width="2" stroke-linecap="butt"/><line x1="117.17" y1="547.27" x2="127.22" y2="552.87" stroke="#111111" stroke-width="2" stroke-linecap="butt"/><text x="132.3" y="563.8" font-size="15" fill="#dc55c4" text-anchor="middle" font-weight="bold" stroke="#dc55c4" stroke-width="0.45">O</text><line x1="82.45" y1="549.1" x2="73.3" y2="554.9" stroke="#111111" stroke-width="2" stroke-linecap="butt"/><text x="60.4" y="564.5" font-size="14.8" fill="#1e90ff" text-anchor="middle" font-weight="bold" stroke="#1e90ff" stroke-width="0.45">HN</text><line x1="66.5" y1="567.3" x2="66.5" y2="579.9" stroke="#111111" stroke-width="2" stroke-linecap="butt"/><path d="M66.6,579.6L83.1,589.1L83.1,608.1L66.6,617.6L50.1,608.1L50.1,589.1Z" fill="url(#rgBlue)" stroke="#111111" stroke-width="2" stroke-linejoin="round"/><line x1="79.5" y1="591.76" x2="79.5" y2="605.44" stroke="#111111" stroke-width="2" stroke-linecap="butt"/><line x1="66.09" y1="613.15" x2="54.21" y2="606.31" stroke="#111111" stroke-width="2" stroke-linecap="butt"/><line x1="54.21" y1="590.89" x2="66.09" y2="584.05" stroke="#111111" stroke-width="2" stroke-linecap="butt"/><line x1="66.8" y1="617.4" x2="66.8" y2="630.8" stroke="#111111" stroke-width="2" stroke-linecap="butt"/><text x="66.8" y="643.5" font-size="14.8" fill="#ff8c1a" text-anchor="middle" font-weight="bold" stroke="#ff8c1a" stroke-width="0.45">N</text><text x="50" y="653.6" font-size="14.8" fill="#ff8c1a" text-anchor="middle" font-weight="bold" stroke="#ff8c1a" stroke-width="0.45">N</text><line x1="56.3" y1="641.6" x2="58.8" y2="640.4" stroke="#ff8c1a" stroke-width="1.4" stroke-linecap="butt"/><line x1="58.3" y1="645.9" x2="61.3" y2="644.4" stroke="#ff8c1a" stroke-width="1.4" stroke-linecap="butt"/><line x1="50.6" y1="656.3" x2="50.6" y2="668.6" stroke="#111111" stroke-width="2" stroke-linecap="butt"/><path d="M50.55,668.4L67.15,677.9L67.15,696.9L50.55,706.4L33.95,696.9L33.95,677.9Z" fill="url(#rgBlue)" stroke="#111111" stroke-width="2" stroke-linejoin="round"/><line x1="63.55" y1="680.56" x2="63.55" y2="694.24" stroke="#111111" stroke-width="2" stroke-linecap="butt"/><line x1="50.04" y1="701.96" x2="38.09" y2="695.12" stroke="#111111" stroke-width="2" stroke-linecap="butt"/><line x1="38.09" y1="679.68" x2="50.04" y2="672.84" stroke="#111111" stroke-width="2" stroke-linecap="butt"/><line x1="50.5" y1="706.2" x2="50.5" y2="720.2" stroke="#111111" stroke-width="2" stroke-linecap="butt"/><text x="56" y="732.7" font-size="14.8" fill="#1e90ff" text-anchor="middle" font-weight="bold" stroke="#1e90ff" stroke-width="0.45">NH</text><path d="M35.3,737.7L36.27,737.98L36.99,737.89L37.35,737.26L37.45,736.25L37.55,735.24L37.91,734.61L38.63,734.52L39.6,734.8L40.57,735.08L41.29,734.99L41.65,734.36L41.75,733.35L41.85,732.34L42.21,731.71L42.93,731.62L43.9,731.9" fill="none" stroke="#111111" stroke-width="2.3" stroke-linecap="round" stroke-linejoin="round"/><text x="59.3" y="719.9" font-size="11.5" fill="#1e90ff" text-anchor="middle" font-weight="bold" stroke="#1e90ff" stroke-width="0.45">+</text><circle cx="70.1" cy="727.6" r="1.4" fill="#1e90ff"/><circle cx="75.1" cy="727.6" r="1.4" fill="#1e90ff"/><text x="80.6" y="732" font-size="15.6" fill="#1e90ff" stroke="#1e90ff" stroke-width="0.3">OTF<tspan font-size="10" baseline-shift="5.5">−</tspan></text></g>
<g transform="translate(257.1 0)"><path d="M99.2,518.8L115.95,528.9L115.95,549.1L99.2,559.2L82.45,549.1L82.45,528.9Z" fill="url(#rgPink)" stroke="#111111" stroke-width="2" stroke-linejoin="round"/><line x1="99.8" y1="523.36" x2="111.86" y2="530.64" stroke="#111111" stroke-width="2" stroke-linecap="butt"/><line x1="98.6" y1="554.64" x2="86.54" y2="547.36" stroke="#111111" stroke-width="2" stroke-linecap="butt"/><line x1="83.29" y1="527.08" x2="73.64" y2="521.58" stroke="#111111" stroke-width="2" stroke-linecap="butt"/><line x1="81.21" y1="530.72" x2="71.56" y2="525.22" stroke="#111111" stroke-width="2" stroke-linecap="butt"/><text x="65.8" y="524.9" font-size="15" fill="#dc55c4" text-anchor="middle" font-weight="bold" stroke="#dc55c4" stroke-width="0.45">O</text><path d="M115.95,528.9L116.89,529.42L117.56,529.47L117.86,528.86L117.88,527.79L117.91,526.71L118.2,526.1L118.87,526.16L119.81,526.67L120.75,527.19L121.43,527.25L121.72,526.64L121.74,525.56L121.77,524.49L122.06,523.88L122.73,523.93L123.68,524.45L124.62,524.97L125.29,525.02L125.58,524.41L125.61,523.34L125.63,522.26L125.92,521.65L126.6,521.71L127.54,522.23L128.48,522.74L129.15,522.8L129.44,522.19L129.47,521.11L129.49,520.04L129.79,519.43L130.46,519.48L131.4,520" fill="none" stroke="#111111" stroke-width="2" stroke-linecap="round" stroke-linejoin="round"/><line x1="115.13" y1="550.93" x2="125.18" y2="556.53" stroke="#111111" stroke-width="2" stroke-linecap="butt"/><line x1="117.17" y1="547.27" x2="127.22" y2="552.87" stroke="#111111" stroke-width="2" stroke-linecap="butt"/><text x="132.3" y="563.8" font-size="15" fill="#dc55c4" text-anchor="middle" font-weight="bold" stroke="#dc55c4" stroke-width="0.45">O</text><line x1="82.45" y1="549.1" x2="73.3" y2="554.9" stroke="#111111" stroke-width="2" stroke-linecap="butt"/><text x="60.4" y="564.5" font-size="14.8" fill="#1e90ff" text-anchor="middle" font-weight="bold" stroke="#1e90ff" stroke-width="0.45">HN</text><line x1="66.5" y1="567.3" x2="66.5" y2="579.9" stroke="#111111" stroke-width="2" stroke-linecap="butt"/><path d="M66.6,579.6L83.1,589.1L83.1,608.1L66.6,617.6L50.1,608.1L50.1,589.1Z" fill="url(#rgBlue)" stroke="#111111" stroke-width="2" stroke-linejoin="round"/><line x1="79.5" y1="591.76" x2="79.5" y2="605.44" stroke="#111111" stroke-width="2" stroke-linecap="butt"/><line x1="66.09" y1="613.15" x2="54.21" y2="606.31" stroke="#111111" stroke-width="2" stroke-linecap="butt"/><line x1="54.21" y1="590.89" x2="66.09" y2="584.05" stroke="#111111" stroke-width="2" stroke-linecap="butt"/><line x1="66.8" y1="617.4" x2="66.8" y2="630.8" stroke="#111111" stroke-width="2" stroke-linecap="butt"/><text x="66.8" y="643.5" font-size="14.8" fill="#ff8c1a" text-anchor="middle" font-weight="bold" stroke="#ff8c1a" stroke-width="0.45">N</text><text x="50" y="653.6" font-size="14.8" fill="#ff8c1a" text-anchor="middle" font-weight="bold" stroke="#ff8c1a" stroke-width="0.45">N</text><line x1="56.3" y1="641.6" x2="58.8" y2="640.4" stroke="#ff8c1a" stroke-width="1.4" stroke-linecap="butt"/><line x1="58.3" y1="645.9" x2="61.3" y2="644.4" stroke="#ff8c1a" stroke-width="1.4" stroke-linecap="butt"/><line x1="50.6" y1="656.3" x2="50.6" y2="668.6" stroke="#111111" stroke-width="2" stroke-linecap="butt"/><path d="M50.55,668.4L67.15,677.9L67.15,696.9L50.55,706.4L33.95,696.9L33.95,677.9Z" fill="url(#rgBlue)" stroke="#111111" stroke-width="2" stroke-linejoin="round"/><line x1="63.55" y1="680.56" x2="63.55" y2="694.24" stroke="#111111" stroke-width="2" stroke-linecap="butt"/><line x1="50.04" y1="701.96" x2="38.09" y2="695.12" stroke="#111111" stroke-width="2" stroke-linecap="butt"/><line x1="38.09" y1="679.68" x2="50.04" y2="672.84" stroke="#111111" stroke-width="2" stroke-linecap="butt"/><line x1="50.5" y1="706.2" x2="50.5" y2="720.2" stroke="#111111" stroke-width="2" stroke-linecap="butt"/><text x="56" y="732.7" font-size="14.8" fill="#1e90ff" text-anchor="middle" font-weight="bold" stroke="#1e90ff" stroke-width="0.45">NH</text><path d="M35.3,737.7L36.27,737.98L36.99,737.89L37.35,737.26L37.45,736.25L37.55,735.24L37.91,734.61L38.63,734.52L39.6,734.8L40.57,735.08L41.29,734.99L41.65,734.36L41.75,733.35L41.85,732.34L42.21,731.71L42.93,731.62L43.9,731.9" fill="none" stroke="#111111" stroke-width="2.3" stroke-linecap="round" stroke-linejoin="round"/></g>
<g transform="translate(510.7 0)"><path d="M99.2,518.8L115.95,528.9L115.95,549.1L99.2,559.2L82.45,549.1L82.45,528.9Z" fill="url(#rgPink)" stroke="#111111" stroke-width="2" stroke-linejoin="round"/><line x1="99.8" y1="523.36" x2="111.86" y2="530.64" stroke="#111111" stroke-width="2" stroke-linecap="butt"/><line x1="98.6" y1="554.64" x2="86.54" y2="547.36" stroke="#111111" stroke-width="2" stroke-linecap="butt"/><line x1="83.29" y1="527.08" x2="73.64" y2="521.58" stroke="#111111" stroke-width="2" stroke-linecap="butt"/><line x1="81.21" y1="530.72" x2="71.56" y2="525.22" stroke="#111111" stroke-width="2" stroke-linecap="butt"/><text x="65.8" y="524.9" font-size="15" fill="#dc55c4" text-anchor="middle" font-weight="bold" stroke="#dc55c4" stroke-width="0.45">O</text><path d="M115.95,528.9L116.89,529.42L117.56,529.47L117.86,528.86L117.88,527.79L117.91,526.71L118.2,526.1L118.87,526.16L119.81,526.67L120.75,527.19L121.43,527.25L121.72,526.64L121.74,525.56L121.77,524.49L122.06,523.88L122.73,523.93L123.68,524.45L124.62,524.97L125.29,525.02L125.58,524.41L125.61,523.34L125.63,522.26L125.92,521.65L126.6,521.71L127.54,522.23L128.48,522.74L129.15,522.8L129.44,522.19L129.47,521.11L129.49,520.04L129.79,519.43L130.46,519.48L131.4,520" fill="none" stroke="#111111" stroke-width="2" stroke-linecap="round" stroke-linejoin="round"/><line x1="115.95" y1="549.1" x2="125.8" y2="554.6" stroke="#111111" stroke-width="2" stroke-linecap="butt"/><text x="132.3" y="564.2" font-size="15" fill="#dc55c4" text-anchor="middle" font-weight="bold" stroke="#dc55c4" stroke-width="0.45">O</text><line x1="136.8" y1="551.2" x2="141.3" y2="551.2" stroke="#dc55c4" stroke-width="1" stroke-linecap="butt"/><circle cx="132.3" cy="568.9" r="1" fill="#d98abb"/><circle cx="132.3" cy="573.4" r="1" fill="#d98abb"/><text x="116.2" y="587.2" font-size="15.5" fill="#d98abb" stroke="#d98abb" stroke-width="0.3">Ca<tspan font-size="10.5" baseline-shift="5.5">2+</tspan></text><line x1="82.45" y1="549.1" x2="73.3" y2="554.9" stroke="#111111" stroke-width="2" stroke-linecap="butt"/><text x="60.4" y="564.5" font-size="14.8" fill="#1e90ff" text-anchor="middle" font-weight="bold" stroke="#1e90ff" stroke-width="0.45">HN</text><line x1="66.5" y1="567.3" x2="66.5" y2="579.9" stroke="#111111" stroke-width="2" stroke-linecap="butt"/><path d="M66.6,579.6L83.1,589.1L83.1,608.1L66.6,617.6L50.1,608.1L50.1,589.1Z" fill="url(#rgBlue)" stroke="#111111" stroke-width="2" stroke-linejoin="round"/><line x1="79.5" y1="591.76" x2="79.5" y2="605.44" stroke="#111111" stroke-width="2" stroke-linecap="butt"/><line x1="66.09" y1="613.15" x2="54.21" y2="606.31" stroke="#111111" stroke-width="2" stroke-linecap="butt"/><line x1="54.21" y1="590.89" x2="66.09" y2="584.05" stroke="#111111" stroke-width="2" stroke-linecap="butt"/><line x1="66.8" y1="617.4" x2="66.8" y2="630.8" stroke="#111111" stroke-width="2" stroke-linecap="butt"/><text x="66.8" y="643.5" font-size="14.8" fill="#ff8c1a" text-anchor="middle" font-weight="bold" stroke="#ff8c1a" stroke-width="0.45">N</text><text x="50" y="653.6" font-size="14.8" fill="#ff8c1a" text-anchor="middle" font-weight="bold" stroke="#ff8c1a" stroke-width="0.45">N</text><line x1="56.3" y1="641.6" x2="58.8" y2="640.4" stroke="#ff8c1a" stroke-width="1.4" stroke-linecap="butt"/><line x1="58.3" y1="645.9" x2="61.3" y2="644.4" stroke="#ff8c1a" stroke-width="1.4" stroke-linecap="butt"/><line x1="50.6" y1="656.3" x2="50.6" y2="668.6" stroke="#111111" stroke-width="2" stroke-linecap="butt"/><path d="M50.55,668.4L67.15,677.9L67.15,696.9L50.55,706.4L33.95,696.9L33.95,677.9Z" fill="url(#rgBlue)" stroke="#111111" stroke-width="2" stroke-linejoin="round"/><line x1="63.55" y1="680.56" x2="63.55" y2="694.24" stroke="#111111" stroke-width="2" stroke-linecap="butt"/><line x1="50.04" y1="701.96" x2="38.09" y2="695.12" stroke="#111111" stroke-width="2" stroke-linecap="butt"/><line x1="38.09" y1="679.68" x2="50.04" y2="672.84" stroke="#111111" stroke-width="2" stroke-linecap="butt"/><line x1="50.5" y1="706.2" x2="50.5" y2="720.2" stroke="#111111" stroke-width="2" stroke-linecap="butt"/><text x="56" y="732.7" font-size="14.8" fill="#1e90ff" text-anchor="middle" font-weight="bold" stroke="#1e90ff" stroke-width="0.45">NH</text><path d="M35.3,737.7L36.27,737.98L36.99,737.89L37.35,737.26L37.45,736.25L37.55,735.24L37.91,734.61L38.63,734.52L39.6,734.8L40.57,735.08L41.29,734.99L41.65,734.36L41.75,733.35L41.85,732.34L42.21,731.71L42.93,731.62L43.9,731.9" fill="none" stroke="#111111" stroke-width="2.3" stroke-linecap="round" stroke-linejoin="round"/></g>
<g transform="translate(785.8 0)"><path d="M99.2,518.8L115.95,528.9L115.95,549.1L99.2,559.2L82.45,549.1L82.45,528.9Z" fill="url(#rgPink)" stroke="#111111" stroke-width="2" stroke-linejoin="round"/><line x1="99.8" y1="523.36" x2="111.86" y2="530.64" stroke="#111111" stroke-width="2" stroke-linecap="butt"/><line x1="98.6" y1="554.64" x2="86.54" y2="547.36" stroke="#111111" stroke-width="2" stroke-linecap="butt"/><line x1="83.29" y1="527.08" x2="73.64" y2="521.58" stroke="#111111" stroke-width="2" stroke-linecap="butt"/><line x1="81.21" y1="530.72" x2="71.56" y2="525.22" stroke="#111111" stroke-width="2" stroke-linecap="butt"/><text x="65.8" y="524.9" font-size="15" fill="#dc55c4" text-anchor="middle" font-weight="bold" stroke="#dc55c4" stroke-width="0.45">O</text><path d="M115.95,528.9L116.89,529.42L117.56,529.47L117.86,528.86L117.88,527.79L117.91,526.71L118.2,526.1L118.87,526.16L119.81,526.67L120.75,527.19L121.43,527.25L121.72,526.64L121.74,525.56L121.77,524.49L122.06,523.88L122.73,523.93L123.68,524.45L124.62,524.97L125.29,525.02L125.58,524.41L125.61,523.34L125.63,522.26L125.92,521.65L126.6,521.71L127.54,522.23L128.48,522.74L129.15,522.8L129.44,522.19L129.47,521.11L129.49,520.04L129.79,519.43L130.46,519.48L131.4,520" fill="none" stroke="#111111" stroke-width="2" stroke-linecap="round" stroke-linejoin="round"/><line x1="115.95" y1="549.1" x2="125.8" y2="554.6" stroke="#111111" stroke-width="2" stroke-linecap="butt"/><text x="132.3" y="564.2" font-size="15" fill="#dc55c4" text-anchor="middle" font-weight="bold" stroke="#dc55c4" stroke-width="0.45">O</text><line x1="136.8" y1="551.2" x2="141.3" y2="551.2" stroke="#dc55c4" stroke-width="1" stroke-linecap="butt"/><circle cx="132.3" cy="568.9" r="1" fill="#d98abb"/><circle cx="132.3" cy="573.4" r="1" fill="#d98abb"/><text x="116.2" y="587.2" font-size="15.5" fill="#d98abb" stroke="#d98abb" stroke-width="0.3">Ca<tspan font-size="10.5" baseline-shift="5.5">2+</tspan></text><line x1="82.45" y1="549.1" x2="73.3" y2="554.9" stroke="#111111" stroke-width="2" stroke-linecap="butt"/><text x="60.4" y="564.5" font-size="14.8" fill="#1e90ff" text-anchor="middle" font-weight="bold" stroke="#1e90ff" stroke-width="0.45">HN</text><line x1="66.5" y1="567.3" x2="66.5" y2="579.9" stroke="#111111" stroke-width="2" stroke-linecap="butt"/><path d="M66.6,579.6L83.1,589.1L83.1,608.1L66.6,617.6L50.1,608.1L50.1,589.1Z" fill="url(#rgBlue)" stroke="#111111" stroke-width="2" stroke-linejoin="round"/><line x1="79.5" y1="591.76" x2="79.5" y2="605.44" stroke="#111111" stroke-width="2" stroke-linecap="butt"/><line x1="66.09" y1="613.15" x2="54.21" y2="606.31" stroke="#111111" stroke-width="2" stroke-linecap="butt"/><line x1="54.21" y1="590.89" x2="66.09" y2="584.05" stroke="#111111" stroke-width="2" stroke-linecap="butt"/><line x1="66.8" y1="617.4" x2="66.8" y2="630.8" stroke="#111111" stroke-width="2" stroke-linecap="butt"/><text x="67.2" y="642.8" font-size="15.2" fill="#ff8c1a" text-anchor="middle" font-weight="bold" stroke="#ff8c1a" stroke-width="0.45">N</text><text x="49.8" y="653.2" font-size="15.2" fill="#ff8c1a" text-anchor="middle" font-weight="bold" stroke="#ff8c1a" stroke-width="0.45">N</text><text x="33.7" y="643.6" font-size="15" fill="#ff8c1a" text-anchor="middle" font-weight="bold" stroke="#ff8c1a" stroke-width="0.45">H</text><text x="83.8" y="652.6" font-size="15" fill="#ff8c1a" text-anchor="middle" font-weight="bold" stroke="#ff8c1a" stroke-width="0.45">H</text><line x1="57" y1="644.5" x2="60.6" y2="642.7" stroke="#ff8c1a" stroke-width="1.5" stroke-linecap="round"/><line x1="41.2" y1="642.7" x2="44.2" y2="644.3" stroke="#ff8c1a" stroke-width="1.5" stroke-linecap="round"/><line x1="74" y1="642.2" x2="77" y2="643.7" stroke="#ff8c1a" stroke-width="1.5" stroke-linecap="round"/><line x1="50.6" y1="656.3" x2="50.6" y2="668.6" stroke="#111111" stroke-width="2" stroke-linecap="butt"/><path d="M50.55,668.4L67.15,677.9L67.15,696.9L50.55,706.4L33.95,696.9L33.95,677.9Z" fill="url(#rgBlue)" stroke="#111111" stroke-width="2" stroke-linejoin="round"/><line x1="63.55" y1="680.56" x2="63.55" y2="694.24" stroke="#111111" stroke-width="2" stroke-linecap="butt"/><line x1="50.04" y1="701.96" x2="38.09" y2="695.12" stroke="#111111" stroke-width="2" stroke-linecap="butt"/><line x1="38.09" y1="679.68" x2="50.04" y2="672.84" stroke="#111111" stroke-width="2" stroke-linecap="butt"/><line x1="50.5" y1="706.2" x2="50.5" y2="720.2" stroke="#111111" stroke-width="2" stroke-linecap="butt"/><text x="56" y="732.7" font-size="14.8" fill="#1e90ff" text-anchor="middle" font-weight="bold" stroke="#1e90ff" stroke-width="0.45">NH</text><path d="M35.3,737.7L36.27,737.98L36.99,737.89L37.35,737.26L37.45,736.25L37.55,735.24L37.91,734.61L38.63,734.52L39.6,734.8L40.57,735.08L41.29,734.99L41.65,734.36L41.75,733.35L41.85,732.34L42.21,731.71L42.93,731.62L43.9,731.9" fill="none" stroke="#111111" stroke-width="2.3" stroke-linecap="round" stroke-linejoin="round"/></g>
<text x="122.8" y="733.3" font-size="15.7" fill="#1a1a1a" stroke="#1a1a1a" stroke-width="0.3">State I</text>
<text x="342.2" y="733.6" font-size="15.7" fill="#1a1a1a" stroke="#1a1a1a" stroke-width="0.3">Initial State</text>
<text x="594.8" y="733" font-size="15.7" fill="#1a1a1a" stroke="#1a1a1a" stroke-width="0.3">State II</text>
<text x="869.2" y="733" font-size="15.7" fill="#1a1a1a" stroke="#1a1a1a" stroke-width="0.3">State III</text>
<text x="210.4" y="609.5" font-size="16" fill="#3a9cff" text-anchor="middle" stroke="#3a9cff" stroke-width="0.3">Charge</text>
<path d="M253.8,621.6L196.34,618.6L197.2,615.7L175.8,621.6L197.2,627.5L196.34,624.6Z" fill="#3a9cff"/>
<text x="216.5" y="644.8" font-size="16" fill="#3a9cff" text-anchor="middle" stroke="#3a9cff" stroke-width="0.3">−e<tspan font-size="10" baseline-shift="5.5">−</tspan>, +OTF<tspan font-size="10" baseline-shift="5.5">−</tspan></text>
<text x="460" y="609.2" font-size="16" fill="#e3a3c9" text-anchor="middle" stroke="#e3a3c9" stroke-width="0.3">Discharge</text>
<path d="M419.5,624L478.02,621.1L477.2,618.3L497.6,624L477.2,629.7L478.02,626.9Z" fill="#e3a3c9"/>
<text x="461" y="648.2" font-size="16" fill="#e3a3c9" text-anchor="middle" stroke="#e3a3c9" stroke-width="0.3">+e<tspan font-size="10" baseline-shift="5.5">−</tspan>, +Ca<tspan font-size="10.5" baseline-shift="5.5">2+</tspan></text>
<text x="743.5" y="611" font-size="16" fill="#ff9a3c" text-anchor="middle" stroke="#ff9a3c" stroke-width="0.3">Discharge</text>
<path d="M702,624.8L759.72,621.9L758.9,619.1L779.3,624.8L758.9,630.5L759.72,627.7Z" fill="#ff9a3c"/>
<text x="742" y="649.2" font-size="16" fill="#ff9a3c" text-anchor="middle" stroke="#ff9a3c" stroke-width="0.3">+2e<tspan font-size="10" baseline-shift="5.5">−</tspan>, +2H<tspan font-size="10.5" baseline-shift="5.5">+</tspan></text>
</g>
</g>
</svg>
</body>
</html>
